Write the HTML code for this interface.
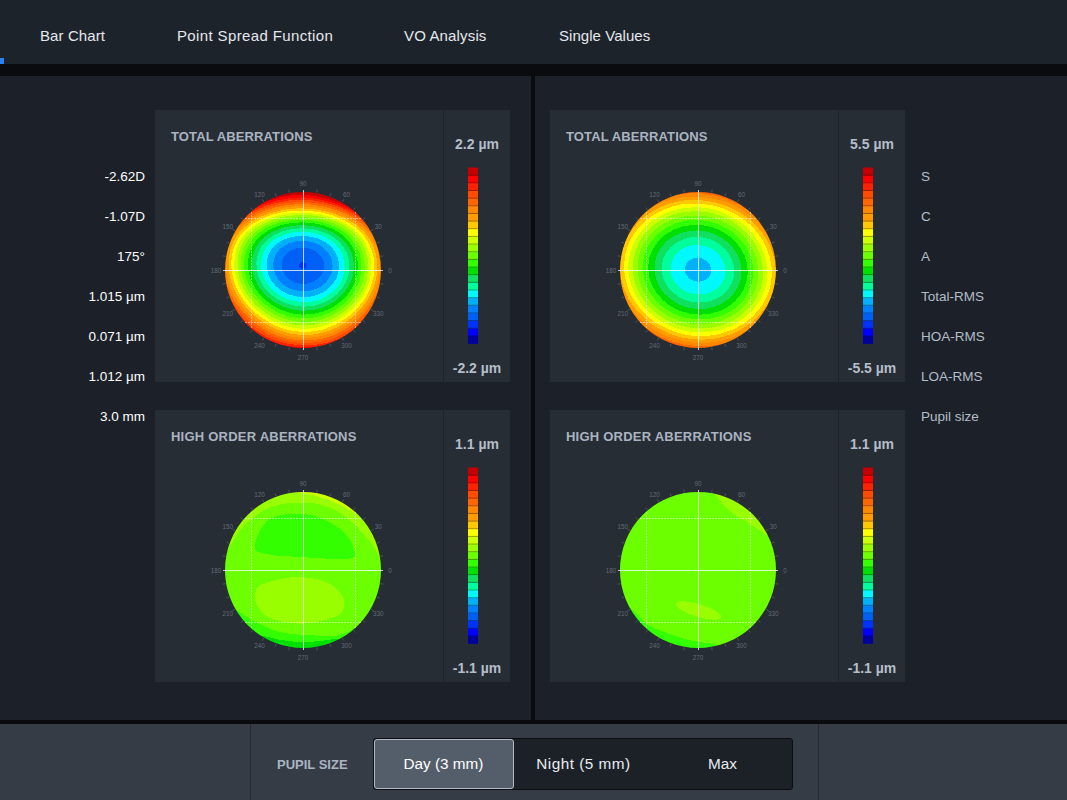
<!DOCTYPE html><html><head><meta charset="utf-8"><style>
*{margin:0;padding:0;box-sizing:border-box}
html,body{width:1067px;height:800px;overflow:hidden;background:#1c2129;font-family:"Liberation Sans",sans-serif}
.a{position:absolute}
.t{position:absolute;white-space:nowrap}
svg text{font-family:"Liberation Sans",sans-serif;font-size:6.3px;fill:#626b76;text-anchor:middle}
</style></head><body>
<div class="a" style="left:0;top:0;width:1067px;height:64px;background:#1d232b"></div>
<div class="a" style="left:0;top:58px;width:4px;height:6px;background:#2f80f5"></div>
<div class="a" style="left:0;top:64px;width:1067px;height:12px;background:#090b0f"></div>
<div class="a" style="left:0;top:76px;width:531px;height:644px;background:#1c2129"></div>
<div class="a" style="left:531px;top:76px;width:4px;height:644px;background:#090b0f"></div>
<div class="a" style="left:535px;top:76px;width:532px;height:644px;background:#1c2129"></div>
<div class="a" style="left:0;top:720px;width:1067px;height:4px;background:#090b0f"></div>
<div class="a" style="left:0;top:724px;width:1067px;height:76px;background:#363c45"></div>
<div class="a" style="left:250px;top:724px;width:1px;height:76px;background:#262b32"></div>
<div class="a" style="left:818px;top:724px;width:1px;height:76px;background:#262b32"></div>
<div class="a" style="left:373px;top:738px;width:420px;height:52px;background:#1c2128;border:1px solid #0b0d11;border-radius:3px"></div>
<div class="a" style="left:374px;top:739px;width:140px;height:50px;background:#545e6b;border:1px solid #b4bac2;border-radius:3px"></div>
<div class="t" style="left:40px;top:28.30px;font-size:15px;line-height:15px;color:#e4e8ec;font-weight:400;letter-spacing:0.1px">Bar Chart</div>
<div class="t" style="left:177px;top:28.30px;font-size:15px;line-height:15px;color:#e4e8ec;font-weight:400;letter-spacing:0.37px">Point Spread Function</div>
<div class="t" style="left:404px;top:28.30px;font-size:15px;line-height:15px;color:#e4e8ec;font-weight:400;letter-spacing:0.15px">VO Analysis</div>
<div class="t" style="left:559px;top:28.30px;font-size:15px;line-height:15px;color:#e4e8ec;font-weight:400;letter-spacing:0.05px">Single Values</div>
<div class="t" style="right:922px;top:169.57px;font-size:13.5px;line-height:13.5px;color:#ffffff;font-weight:400;text-align:right;">-2.62D</div>
<div class="t" style="right:922px;top:209.57px;font-size:13.5px;line-height:13.5px;color:#ffffff;font-weight:400;text-align:right;">-1.07D</div>
<div class="t" style="right:922px;top:249.57px;font-size:13.5px;line-height:13.5px;color:#ffffff;font-weight:400;text-align:right;">175°</div>
<div class="t" style="right:922px;top:289.57px;font-size:13.5px;line-height:13.5px;color:#ffffff;font-weight:400;text-align:right;">1.015 µm</div>
<div class="t" style="right:922px;top:329.57px;font-size:13.5px;line-height:13.5px;color:#ffffff;font-weight:400;text-align:right;">0.071 µm</div>
<div class="t" style="right:922px;top:369.57px;font-size:13.5px;line-height:13.5px;color:#ffffff;font-weight:400;text-align:right;">1.012 µm</div>
<div class="t" style="right:922px;top:409.57px;font-size:13.5px;line-height:13.5px;color:#ffffff;font-weight:400;text-align:right;">3.0 mm</div>
<div class="t" style="left:921px;top:169.57px;font-size:13.5px;line-height:13.5px;color:#b3bdc8;font-weight:400;">S</div>
<div class="t" style="left:921px;top:209.57px;font-size:13.5px;line-height:13.5px;color:#b3bdc8;font-weight:400;">C</div>
<div class="t" style="left:921px;top:249.57px;font-size:13.5px;line-height:13.5px;color:#b3bdc8;font-weight:400;">A</div>
<div class="t" style="left:921px;top:289.57px;font-size:13.5px;line-height:13.5px;color:#b3bdc8;font-weight:400;">Total-RMS</div>
<div class="t" style="left:921px;top:329.57px;font-size:13.5px;line-height:13.5px;color:#b3bdc8;font-weight:400;">HOA-RMS</div>
<div class="t" style="left:921px;top:369.57px;font-size:13.5px;line-height:13.5px;color:#b3bdc8;font-weight:400;">LOA-RMS</div>
<div class="t" style="left:921px;top:409.57px;font-size:13.5px;line-height:13.5px;color:#b3bdc8;font-weight:400;">Pupil size</div>
<div class="a" style="left:155px;top:110px;width:355px;height:272px;background:#272d35"></div>
<div class="a" style="left:443px;top:110px;width:1px;height:272px;background:#1e232a"></div>
<div class="t" style="left:171px;top:130.00px;font-size:13px;line-height:13px;color:#aab4c1;font-weight:700;letter-spacing:0.12px">TOTAL ABERRATIONS</div>
<div class="t" style="left:327px;width:300px;text-align:center;top:137.15px;font-size:14px;line-height:14px;color:#b4beca;font-weight:700;">2.2 µm</div>
<div class="t" style="left:327px;width:300px;text-align:center;top:361.15px;font-size:14px;line-height:14px;color:#b4beca;font-weight:700;">-2.2 µm</div>
<div class="a" style="left:155px;top:410px;width:355px;height:272px;background:#272d35"></div>
<div class="a" style="left:443px;top:410px;width:1px;height:272px;background:#1e232a"></div>
<div class="t" style="left:171px;top:430.00px;font-size:13px;line-height:13px;color:#aab4c1;font-weight:700;letter-spacing:0.23px">HIGH ORDER ABERRATIONS</div>
<div class="t" style="left:327px;width:300px;text-align:center;top:437.15px;font-size:14px;line-height:14px;color:#b4beca;font-weight:700;">1.1 µm</div>
<div class="t" style="left:327px;width:300px;text-align:center;top:661.15px;font-size:14px;line-height:14px;color:#b4beca;font-weight:700;">-1.1 µm</div>
<div class="a" style="left:550px;top:110px;width:355px;height:272px;background:#272d35"></div>
<div class="a" style="left:838px;top:110px;width:1px;height:272px;background:#1e232a"></div>
<div class="t" style="left:566px;top:130.00px;font-size:13px;line-height:13px;color:#aab4c1;font-weight:700;letter-spacing:0.12px">TOTAL ABERRATIONS</div>
<div class="t" style="left:722px;width:300px;text-align:center;top:137.15px;font-size:14px;line-height:14px;color:#b4beca;font-weight:700;">5.5 µm</div>
<div class="t" style="left:722px;width:300px;text-align:center;top:361.15px;font-size:14px;line-height:14px;color:#b4beca;font-weight:700;">-5.5 µm</div>
<div class="a" style="left:550px;top:410px;width:355px;height:272px;background:#272d35"></div>
<div class="a" style="left:838px;top:410px;width:1px;height:272px;background:#1e232a"></div>
<div class="t" style="left:566px;top:430.00px;font-size:13px;line-height:13px;color:#aab4c1;font-weight:700;letter-spacing:0.23px">HIGH ORDER ABERRATIONS</div>
<div class="t" style="left:722px;width:300px;text-align:center;top:437.15px;font-size:14px;line-height:14px;color:#b4beca;font-weight:700;">1.1 µm</div>
<div class="t" style="left:722px;width:300px;text-align:center;top:661.15px;font-size:14px;line-height:14px;color:#b4beca;font-weight:700;">-1.1 µm</div>
<svg class="a" style="left:0;top:0" width="1067" height="800"><g shape-rendering="crispEdges"><circle cx="303" cy="270" r="79" fill="#0033ff"/><path d="M295.7 190.4L310.3 190.4L311 191.1L315.6 191.1L316.3 191.8L318.9 191.8L319.6 192.4L322.2 192.4L324.9 193.8L326.9 193.8L329.5 195.1L330.8 195.1L332.8 196.4L334.2 196.4L343.4 201.0L348.7 205.0L349.4 205.0L351.4 207.0L352.1 207.0L354.7 209.7L355.4 209.7L363.3 217.6L363.3 218.3L366 220.9L366 221.6L368 223.6L369.3 226.2L372 229.6L376.6 238.8L376.6 240.2L377.9 242.2L377.9 243.5L379.2 246.1L379.2 248.1L380.6 250.8L380.6 253.4L381.2 254.1L381.2 256.7L381.9 257.4L381.9 262.0L382.6 262.7L382.6 277.3L381.9 278.0L381.9 282.6L381.2 283.3L381.2 285.9L380.6 286.6L380.6 289.2L379.2 291.9L379.2 293.9L377.9 296.5L377.9 297.8L376.6 299.8L376.6 301.2L372 310.4L368 315.7L368 316.4L366 318.4L366 319.1L363.3 321.7L363.3 322.4L355.4 330.3L354.7 330.3L352.1 333.0L351.4 333.0L349.4 335.0L348.7 335.0L343.4 339.0L334.2 343.6L332.8 343.6L330.8 344.9L329.5 344.9L326.9 346.2L324.9 346.2L322.2 347.6L319.6 347.6L318.9 348.2L316.3 348.2L315.6 348.9L311 348.9L310.3 349.6L295.7 349.6L295 348.9L290.4 348.9L289.7 348.2L287.1 348.2L286.4 347.6L283.8 347.6L281.1 346.2L279.1 346.2L276.5 344.9L275.2 344.9L273.2 343.6L271.8 343.6L262.6 339.0L259.2 336.3L256.6 335.0L254.6 333.0L253.9 333.0L251.3 330.3L250.6 330.3L242.7 322.4L242.7 321.7L240 319.1L240 318.4L238 316.4L238 315.7L234 310.4L229.4 301.2L229.4 299.8L228.1 297.8L228.1 296.5L226.8 293.9L226.8 291.9L225.4 289.2L225.4 286.6L224.8 285.9L224.8 283.3L224.1 282.6L224.1 278.0L223.4 277.3L223.4 262.7L224.1 262.0L224.1 257.4L224.8 256.7L224.8 254.1L225.4 253.4L225.4 250.8L226.8 248.1L226.8 246.1L228.1 243.5L228.1 242.2L229.4 240.2L229.4 238.8L234 229.6L236.7 226.2L238 223.6L240 221.6L240 220.9L242.7 218.3L242.7 217.6L250.6 209.7L251.3 209.7L253.9 207.0L254.6 207.0L256.6 205.0L259.2 203.7L262.6 201.0L271.8 196.4L273.2 196.4L275.2 195.1L276.5 195.1L279.1 193.8L281.1 193.8L283.8 192.4L286.4 192.4L287.1 191.8L289.7 191.8L290.4 191.1L295 191.1L295.7 190.4ZM300.5 262.7L299.3 264.0L299 265.4L299.3 266.7L300.3 267.9L301.7 268.6L303.7 268.7L306.1 267.3L306.7 265.4L305.7 263.2L303 262.1L300.5 262.7Z" fill="#0060f5" fill-rule="evenodd"/><path d="M295.7 190.4L310.3 190.4L311 191.1L315.6 191.1L316.3 191.8L318.9 191.8L319.6 192.4L322.2 192.4L324.9 193.8L326.9 193.8L329.5 195.1L330.8 195.1L332.8 196.4L334.2 196.4L343.4 201.0L348.7 205.0L349.4 205.0L351.4 207.0L352.1 207.0L354.7 209.7L355.4 209.7L363.3 217.6L363.3 218.3L366 220.9L366 221.6L368 223.6L369.3 226.2L372 229.6L376.6 238.8L376.6 240.2L377.9 242.2L377.9 243.5L379.2 246.1L379.2 248.1L380.6 250.8L380.6 253.4L381.2 254.1L381.2 256.7L381.9 257.4L381.9 262.0L382.6 262.7L382.6 277.3L381.9 278.0L381.9 282.6L381.2 283.3L381.2 285.9L380.6 286.6L380.6 289.2L379.2 291.9L379.2 293.9L377.9 296.5L377.9 297.8L376.6 299.8L376.6 301.2L372 310.4L368 315.7L368 316.4L366 318.4L366 319.1L363.3 321.7L363.3 322.4L355.4 330.3L354.7 330.3L352.1 333.0L351.4 333.0L349.4 335.0L348.7 335.0L343.4 339.0L334.2 343.6L332.8 343.6L330.8 344.9L329.5 344.9L326.9 346.2L324.9 346.2L322.2 347.6L319.6 347.6L318.9 348.2L316.3 348.2L315.6 348.9L311 348.9L310.3 349.6L295.7 349.6L295 348.9L290.4 348.9L289.7 348.2L287.1 348.2L286.4 347.6L283.8 347.6L281.1 346.2L279.1 346.2L276.5 344.9L275.2 344.9L273.2 343.6L271.8 343.6L262.6 339.0L259.2 336.3L256.6 335.0L254.6 333.0L253.9 333.0L251.3 330.3L250.6 330.3L242.7 322.4L242.7 321.7L240 319.1L240 318.4L238 316.4L238 315.7L234 310.4L229.4 301.2L229.4 299.8L228.1 297.8L228.1 296.5L226.8 293.9L226.8 291.9L225.4 289.2L225.4 286.6L224.8 285.9L224.8 283.3L224.1 282.6L224.1 278.0L223.4 277.3L223.4 262.7L224.1 262.0L224.1 257.4L224.8 256.7L224.8 254.1L225.4 253.4L225.4 250.8L226.8 248.1L226.8 246.1L228.1 243.5L228.1 242.2L229.4 240.2L229.4 238.8L234 229.6L236.7 226.2L238 223.6L240 221.6L240 220.9L242.7 218.3L242.7 217.6L250.6 209.7L251.3 209.7L253.9 207.0L254.6 207.0L256.6 205.0L259.2 203.7L262.6 201.0L271.8 196.4L273.2 196.4L275.2 195.1L276.5 195.1L279.1 193.8L281.1 193.8L283.8 192.4L286.4 192.4L287.1 191.8L289.7 191.8L290.4 191.1L295 191.1L295.7 190.4ZM297 248.1L292.8 249.4L289.1 251.4L286 254.1L283.6 257.4L282.2 260.7L281.6 264.7L282.1 268.7L283.6 272.7L285.8 276.0L289.1 279.2L293.1 281.6L297 283.1L301 283.8L305.7 283.8L310.3 282.9L314.3 281.3L319.6 277.2L321.6 274.6L323.1 271.3L323.9 268.0L324 264.7L323.5 261.4L322.2 258.3L318.2 253.3L315.6 251.3L312.1 249.4L308.3 248.2L304.3 247.6L297 248.1Z" fill="#0080ff" fill-rule="evenodd"/><path d="M295.7 190.4L310.3 190.4L311 191.1L315.6 191.1L316.3 191.8L318.9 191.8L319.6 192.4L322.2 192.4L324.9 193.8L326.9 193.8L329.5 195.1L330.8 195.1L332.8 196.4L334.2 196.4L343.4 201.0L348.7 205.0L349.4 205.0L351.4 207.0L352.1 207.0L354.7 209.7L355.4 209.7L363.3 217.6L363.3 218.3L366 220.9L366 221.6L368 223.6L369.3 226.2L372 229.6L376.6 238.8L376.6 240.2L377.9 242.2L377.9 243.5L379.2 246.1L379.2 248.1L380.6 250.8L380.6 253.4L381.2 254.1L381.2 256.7L381.9 257.4L381.9 262.0L382.6 262.7L382.6 277.3L381.9 278.0L381.9 282.6L381.2 283.3L381.2 285.9L380.6 286.6L380.6 289.2L379.2 291.9L379.2 293.9L377.9 296.5L377.9 297.8L376.6 299.8L376.6 301.2L372 310.4L368 315.7L368 316.4L366 318.4L366 319.1L363.3 321.7L363.3 322.4L355.4 330.3L354.7 330.3L352.1 333.0L351.4 333.0L349.4 335.0L348.7 335.0L343.4 339.0L334.2 343.6L332.8 343.6L330.8 344.9L329.5 344.9L326.9 346.2L324.9 346.2L322.2 347.6L319.6 347.6L318.9 348.2L316.3 348.2L315.6 348.9L311 348.9L310.3 349.6L295.7 349.6L295 348.9L290.4 348.9L289.7 348.2L287.1 348.2L286.4 347.6L283.8 347.6L281.1 346.2L279.1 346.2L276.5 344.9L275.2 344.9L273.2 343.6L271.8 343.6L262.6 339.0L259.2 336.3L256.6 335.0L254.6 333.0L253.9 333.0L251.3 330.3L250.6 330.3L242.7 322.4L242.7 321.7L240 319.1L240 318.4L238 316.4L238 315.7L234 310.4L229.4 301.2L229.4 299.8L228.1 297.8L228.1 296.5L226.8 293.9L226.8 291.9L225.4 289.2L225.4 286.6L224.8 285.9L224.8 283.3L224.1 282.6L224.1 278.0L223.4 277.3L223.4 262.7L224.1 262.0L224.1 257.4L224.8 256.7L224.8 254.1L225.4 253.4L225.4 250.8L226.8 248.1L226.8 246.1L228.1 243.5L228.1 242.2L229.4 240.2L229.4 238.8L234 229.6L236.7 226.2L238 223.6L240 221.6L240 220.9L242.7 218.3L242.7 217.6L250.6 209.7L251.3 209.7L253.9 207.0L254.6 207.0L256.6 205.0L259.2 203.7L262.6 201.0L271.8 196.4L273.2 196.4L275.2 195.1L276.5 195.1L279.1 193.8L281.1 193.8L283.8 192.4L286.4 192.4L287.1 191.8L289.7 191.8L290.4 191.1L295 191.1L295.7 190.4ZM295.1 241.5L289.1 243.2L283.8 245.9L279.4 249.4L276.3 253.4L274 258.7L273.1 264.0L273.6 269.3L275.4 274.6L278.5 279.7L282.4 283.8L287.4 287.2L293.1 289.7L299 291.1L305.7 291.4L311.6 290.4L317.6 288.3L321.7 285.9L325.7 282.6L328.8 278.6L330.9 274.6L332.3 270.0L332.6 265.4L332 260.7L330.3 256.1L327.8 252.1L324.7 248.8L320.9 245.9L316.3 243.6L311 241.9L305.7 241.0L300.3 240.9L295.1 241.5Z" fill="#00b0f8" fill-rule="evenodd"/><path d="M295.7 190.4L310.3 190.4L311 191.1L315.6 191.1L316.3 191.8L318.9 191.8L319.6 192.4L322.2 192.4L324.9 193.8L326.9 193.8L329.5 195.1L330.8 195.1L332.8 196.4L334.2 196.4L343.4 201.0L348.7 205.0L349.4 205.0L351.4 207.0L352.1 207.0L354.7 209.7L355.4 209.7L363.3 217.6L363.3 218.3L366 220.9L366 221.6L368 223.6L369.3 226.2L372 229.6L376.6 238.8L376.6 240.2L377.9 242.2L377.9 243.5L379.2 246.1L379.2 248.1L380.6 250.8L380.6 253.4L381.2 254.1L381.2 256.7L381.9 257.4L381.9 262.0L382.6 262.7L382.6 277.3L381.9 278.0L381.9 282.6L381.2 283.3L381.2 285.9L380.6 286.6L380.6 289.2L379.2 291.9L379.2 293.9L377.9 296.5L377.9 297.8L376.6 299.8L376.6 301.2L372 310.4L368 315.7L368 316.4L366 318.4L366 319.1L363.3 321.7L363.3 322.4L355.4 330.3L354.7 330.3L352.1 333.0L351.4 333.0L349.4 335.0L348.7 335.0L343.4 339.0L334.2 343.6L332.8 343.6L330.8 344.9L329.5 344.9L326.9 346.2L324.9 346.2L322.2 347.6L319.6 347.6L318.9 348.2L316.3 348.2L315.6 348.9L311 348.9L310.3 349.6L295.7 349.6L295 348.9L290.4 348.9L289.7 348.2L287.1 348.2L286.4 347.6L283.8 347.6L281.1 346.2L279.1 346.2L276.5 344.9L275.2 344.9L273.2 343.6L271.8 343.6L262.6 339.0L259.2 336.3L256.6 335.0L254.6 333.0L253.9 333.0L251.3 330.3L250.6 330.3L242.7 322.4L242.7 321.7L240 319.1L240 318.4L238 316.4L238 315.7L234 310.4L229.4 301.2L229.4 299.8L228.1 297.8L228.1 296.5L226.8 293.9L226.8 291.9L225.4 289.2L225.4 286.6L224.8 285.9L224.8 283.3L224.1 282.6L224.1 278.0L223.4 277.3L223.4 262.7L224.1 262.0L224.1 257.4L224.8 256.7L224.8 254.1L225.4 253.4L225.4 250.8L226.8 248.1L226.8 246.1L228.1 243.5L228.1 242.2L229.4 240.2L229.4 238.8L234 229.6L236.7 226.2L238 223.6L240 221.6L240 220.9L242.7 218.3L242.7 217.6L250.6 209.7L251.3 209.7L253.9 207.0L254.6 207.0L256.6 205.0L259.2 203.7L262.6 201.0L271.8 196.4L273.2 196.4L275.2 195.1L276.5 195.1L279.1 193.8L281.1 193.8L283.8 192.4L286.4 192.4L287.1 191.8L289.7 191.8L290.4 191.1L295 191.1L295.7 190.4ZM296.4 236.2L289.1 237.7L282.4 240.2L276.4 244.1L271.8 248.9L268.5 254.7L266.9 260.7L266.7 267.3L268.2 274.0L271.2 280.2L275.7 285.9L281.1 290.4L287.5 293.9L295 296.3L302.3 297.2L309.6 296.8L316.9 295.0L322.6 292.5L327.6 289.2L332.2 284.8L335.5 279.9L337.8 274.6L339 268.7L338.9 262.7L337.7 257.4L335.5 252.5L332.2 247.9L328.1 244.1L322.9 240.8L316.9 238.2L310.3 236.6L303.7 235.9L296.4 236.2Z" fill="#00f8ff" fill-rule="evenodd"/><path d="M295.7 190.4L310.3 190.4L311 191.1L315.6 191.1L316.3 191.8L318.9 191.8L319.6 192.4L322.2 192.4L324.9 193.8L326.9 193.8L329.5 195.1L330.8 195.1L332.8 196.4L334.2 196.4L343.4 201.0L348.7 205.0L349.4 205.0L351.4 207.0L352.1 207.0L354.7 209.7L355.4 209.7L363.3 217.6L363.3 218.3L366 220.9L366 221.6L368 223.6L369.3 226.2L372 229.6L376.6 238.8L376.6 240.2L377.9 242.2L377.9 243.5L379.2 246.1L379.2 248.1L380.6 250.8L380.6 253.4L381.2 254.1L381.2 256.7L381.9 257.4L381.9 262.0L382.6 262.7L382.6 277.3L381.9 278.0L381.9 282.6L381.2 283.3L381.2 285.9L380.6 286.6L380.6 289.2L379.2 291.9L379.2 293.9L377.9 296.5L377.9 297.8L376.6 299.8L376.6 301.2L372 310.4L368 315.7L368 316.4L366 318.4L366 319.1L363.3 321.7L363.3 322.4L355.4 330.3L354.7 330.3L352.1 333.0L351.4 333.0L349.4 335.0L348.7 335.0L343.4 339.0L334.2 343.6L332.8 343.6L330.8 344.9L329.5 344.9L326.9 346.2L324.9 346.2L322.2 347.6L319.6 347.6L318.9 348.2L316.3 348.2L315.6 348.9L311 348.9L310.3 349.6L295.7 349.6L295 348.9L290.4 348.9L289.7 348.2L287.1 348.2L286.4 347.6L283.8 347.6L281.1 346.2L279.1 346.2L276.5 344.9L275.2 344.9L273.2 343.6L271.8 343.6L262.6 339.0L259.2 336.3L256.6 335.0L254.6 333.0L253.9 333.0L251.3 330.3L250.6 330.3L242.7 322.4L242.7 321.7L240 319.1L240 318.4L238 316.4L238 315.7L234 310.4L229.4 301.2L229.4 299.8L228.1 297.8L228.1 296.5L226.8 293.9L226.8 291.9L225.4 289.2L225.4 286.6L224.8 285.9L224.8 283.3L224.1 282.6L224.1 278.0L223.4 277.3L223.4 262.7L224.1 262.0L224.1 257.4L224.8 256.7L224.8 254.1L225.4 253.4L225.4 250.8L226.8 248.1L226.8 246.1L228.1 243.5L228.1 242.2L229.4 240.2L229.4 238.8L234 229.6L236.7 226.2L238 223.6L240 221.6L240 220.9L242.7 218.3L242.7 217.6L250.6 209.7L251.3 209.7L253.9 207.0L254.6 207.0L256.6 205.0L259.2 203.7L262.6 201.0L271.8 196.4L273.2 196.4L275.2 195.1L276.5 195.1L279.1 193.8L281.1 193.8L283.8 192.4L286.4 192.4L287.1 191.8L289.7 191.8L290.4 191.1L295 191.1L295.7 190.4ZM294.9 232.2L285.8 234.2L277.8 237.5L271.2 242.1L266.5 247.2L263.2 253.4L261.3 260.7L261.4 268.7L263.2 276.0L266.5 282.7L271.8 289.2L278.3 294.5L285.8 298.6L293.7 301.1L302.3 302.2L311 301.7L319.6 299.5L326.2 296.4L332.2 292.2L337.1 287.2L341 281.3L343.4 275.3L344.6 268.7L344.4 262.0L342.7 255.4L340.1 250.1L336.1 244.8L330.8 240.3L325.1 236.9L318.2 234.2L310.3 232.4L302.3 231.8L294.9 232.2Z" fill="#00ff9c" fill-rule="evenodd"/><path d="M295.7 190.4L310.3 190.4L311 191.1L315.6 191.1L316.3 191.8L318.9 191.8L319.6 192.4L322.2 192.4L324.9 193.8L326.9 193.8L329.5 195.1L330.8 195.1L332.8 196.4L334.2 196.4L343.4 201.0L348.7 205.0L349.4 205.0L351.4 207.0L352.1 207.0L354.7 209.7L355.4 209.7L363.3 217.6L363.3 218.3L366 220.9L366 221.6L368 223.6L369.3 226.2L372 229.6L376.6 238.8L376.6 240.2L377.9 242.2L377.9 243.5L379.2 246.1L379.2 248.1L380.6 250.8L380.6 253.4L381.2 254.1L381.2 256.7L381.9 257.4L381.9 262.0L382.6 262.7L382.6 277.3L381.9 278.0L381.9 282.6L381.2 283.3L381.2 285.9L380.6 286.6L380.6 289.2L379.2 291.9L379.2 293.9L377.9 296.5L377.9 297.8L376.6 299.8L376.6 301.2L372 310.4L368 315.7L368 316.4L366 318.4L366 319.1L363.3 321.7L363.3 322.4L355.4 330.3L354.7 330.3L352.1 333.0L351.4 333.0L349.4 335.0L348.7 335.0L343.4 339.0L334.2 343.6L332.8 343.6L330.8 344.9L329.5 344.9L326.9 346.2L324.9 346.2L322.2 347.6L319.6 347.6L318.9 348.2L316.3 348.2L315.6 348.9L311 348.9L310.3 349.6L295.7 349.6L295 348.9L290.4 348.9L289.7 348.2L287.1 348.2L286.4 347.6L283.8 347.6L281.1 346.2L279.1 346.2L276.5 344.9L275.2 344.9L273.2 343.6L271.8 343.6L262.6 339.0L259.2 336.3L256.6 335.0L254.6 333.0L253.9 333.0L251.3 330.3L250.6 330.3L242.7 322.4L242.7 321.7L240 319.1L240 318.4L238 316.4L238 315.7L234 310.4L229.4 301.2L229.4 299.8L228.1 297.8L228.1 296.5L226.8 293.9L226.8 291.9L225.4 289.2L225.4 286.6L224.8 285.9L224.8 283.3L224.1 282.6L224.1 278.0L223.4 277.3L223.4 262.7L224.1 262.0L224.1 257.4L224.8 256.7L224.8 254.1L225.4 253.4L225.4 250.8L226.8 248.1L226.8 246.1L228.1 243.5L228.1 242.2L229.4 240.2L229.4 238.8L234 229.6L236.7 226.2L238 223.6L240 221.6L240 220.9L242.7 218.3L242.7 217.6L250.6 209.7L251.3 209.7L253.9 207.0L254.6 207.0L256.6 205.0L259.2 203.7L262.6 201.0L271.8 196.4L273.2 196.4L275.2 195.1L276.5 195.1L279.1 193.8L281.1 193.8L283.8 192.4L286.4 192.4L287.1 191.8L289.7 191.8L290.4 191.1L295 191.1L295.7 190.4ZM292.8 228.9L283.1 231.1L274.3 234.9L267.2 239.8L261.7 246.1L258.1 253.4L256.4 261.4L256.7 270.0L259.1 278.6L263.5 286.6L269.4 293.2L277.1 299.1L285.8 303.3L295 305.9L304.3 306.7L313.6 305.8L322.9 303.0L330.2 299.3L336.6 294.5L341.5 289.2L345.7 282.6L348.4 275.3L349.5 268.0L349 260.7L347 253.4L343.9 247.5L339.5 242.0L334.1 237.5L326.9 233.4L318.9 230.6L310.3 228.8L301.7 228.3L292.8 228.9Z" fill="#10e060" fill-rule="evenodd"/><path d="M295.7 190.4L310.3 190.4L311 191.1L315.6 191.1L316.3 191.8L318.9 191.8L319.6 192.4L322.2 192.4L324.9 193.8L326.9 193.8L329.5 195.1L330.8 195.1L332.8 196.4L334.2 196.4L343.4 201.0L348.7 205.0L349.4 205.0L351.4 207.0L352.1 207.0L354.7 209.7L355.4 209.7L363.3 217.6L363.3 218.3L366 220.9L366 221.6L368 223.6L369.3 226.2L372 229.6L376.6 238.8L376.6 240.2L377.9 242.2L377.9 243.5L379.2 246.1L379.2 248.1L380.6 250.8L380.6 253.4L381.2 254.1L381.2 256.7L381.9 257.4L381.9 262.0L382.6 262.7L382.6 277.3L381.9 278.0L381.9 282.6L381.2 283.3L381.2 285.9L380.6 286.6L380.6 289.2L379.2 291.9L379.2 293.9L377.9 296.5L377.9 297.8L376.6 299.8L376.6 301.2L372 310.4L368 315.7L368 316.4L366 318.4L366 319.1L363.3 321.7L363.3 322.4L355.4 330.3L354.7 330.3L352.1 333.0L351.4 333.0L349.4 335.0L348.7 335.0L343.4 339.0L334.2 343.6L332.8 343.6L330.8 344.9L329.5 344.9L326.9 346.2L324.9 346.2L322.2 347.6L319.6 347.6L318.9 348.2L316.3 348.2L315.6 348.9L311 348.9L310.3 349.6L295.7 349.6L295 348.9L290.4 348.9L289.7 348.2L287.1 348.2L286.4 347.6L283.8 347.6L281.1 346.2L279.1 346.2L276.5 344.9L275.2 344.9L273.2 343.6L271.8 343.6L262.6 339.0L259.2 336.3L256.6 335.0L254.6 333.0L253.9 333.0L251.3 330.3L250.6 330.3L242.7 322.4L242.7 321.7L240 319.1L240 318.4L238 316.4L238 315.7L234 310.4L229.4 301.2L229.4 299.8L228.1 297.8L228.1 296.5L226.8 293.9L226.8 291.9L225.4 289.2L225.4 286.6L224.8 285.9L224.8 283.3L224.1 282.6L224.1 278.0L223.4 277.3L223.4 262.7L224.1 262.0L224.1 257.4L224.8 256.7L224.8 254.1L225.4 253.4L225.4 250.8L226.8 248.1L226.8 246.1L228.1 243.5L228.1 242.2L229.4 240.2L229.4 238.8L234 229.6L236.7 226.2L238 223.6L240 221.6L240 220.9L242.7 218.3L242.7 217.6L250.6 209.7L251.3 209.7L253.9 207.0L254.6 207.0L256.6 205.0L259.2 203.7L262.6 201.0L271.8 196.4L273.2 196.4L275.2 195.1L276.5 195.1L279.1 193.8L281.1 193.8L283.8 192.4L286.4 192.4L287.1 191.8L289.7 191.8L290.4 191.1L295 191.1L295.7 190.4ZM293.7 225.6L283.1 227.6L273.2 231.4L265.2 236.5L259 242.8L254.7 250.1L252.3 258.7L252.1 268.0L254.1 277.3L258.1 285.9L264.2 293.9L271.9 300.5L281.1 305.8L291.1 309.3L301 310.7L311.6 310.3L321.6 308.0L330.2 304.2L337.5 299.3L343.7 293.2L348.7 286.0L352.1 278.3L353.7 270.0L353.6 262.0L351.8 254.1L348.7 247.4L344.1 241.2L338.1 235.9L330.9 231.5L322.6 228.2L313.6 226.1L303.7 225.2L293.7 225.6Z" fill="#00e000" fill-rule="evenodd"/><path d="M295.7 190.4L310.3 190.4L311 191.1L315.6 191.1L316.3 191.8L318.9 191.8L319.6 192.4L322.2 192.4L324.9 193.8L326.9 193.8L329.5 195.1L330.8 195.1L332.8 196.4L334.2 196.4L343.4 201.0L348.7 205.0L349.4 205.0L351.4 207.0L352.1 207.0L354.7 209.7L355.4 209.7L363.3 217.6L363.3 218.3L366 220.9L366 221.6L368 223.6L369.3 226.2L372 229.6L376.6 238.8L376.6 240.2L377.9 242.2L377.9 243.5L379.2 246.1L379.2 248.1L380.6 250.8L380.6 253.4L381.2 254.1L381.2 256.7L381.9 257.4L381.9 262.0L382.6 262.7L382.6 277.3L381.9 278.0L381.9 282.6L381.2 283.3L381.2 285.9L380.6 286.6L380.6 289.2L379.2 291.9L379.2 293.9L377.9 296.5L377.9 297.8L376.6 299.8L376.6 301.2L372 310.4L368 315.7L368 316.4L366 318.4L366 319.1L363.3 321.7L363.3 322.4L355.4 330.3L354.7 330.3L352.1 333.0L351.4 333.0L349.4 335.0L348.7 335.0L343.4 339.0L334.2 343.6L332.8 343.6L330.8 344.9L329.5 344.9L326.9 346.2L324.9 346.2L322.2 347.6L319.6 347.6L318.9 348.2L316.3 348.2L315.6 348.9L311 348.9L310.3 349.6L295.7 349.6L295 348.9L290.4 348.9L289.7 348.2L287.1 348.2L286.4 347.6L283.8 347.6L281.1 346.2L279.1 346.2L276.5 344.9L275.2 344.9L273.2 343.6L271.8 343.6L262.6 339.0L259.2 336.3L256.6 335.0L254.6 333.0L253.9 333.0L251.3 330.3L250.6 330.3L242.7 322.4L242.7 321.7L240 319.1L240 318.4L238 316.4L238 315.7L234 310.4L229.4 301.2L229.4 299.8L228.1 297.8L228.1 296.5L226.8 293.9L226.8 291.9L225.4 289.2L225.4 286.6L224.8 285.9L224.8 283.3L224.1 282.6L224.1 278.0L223.4 277.3L223.4 262.7L224.1 262.0L224.1 257.4L224.8 256.7L224.8 254.1L225.4 253.4L225.4 250.8L226.8 248.1L226.8 246.1L228.1 243.5L228.1 242.2L229.4 240.2L229.4 238.8L234 229.6L236.7 226.2L238 223.6L240 221.6L240 220.9L242.7 218.3L242.7 217.6L250.6 209.7L251.3 209.7L253.9 207.0L254.6 207.0L256.6 205.0L259.2 203.7L262.6 201.0L271.8 196.4L273.2 196.4L275.2 195.1L276.5 195.1L279.1 193.8L281.1 193.8L283.8 192.4L286.4 192.4L287.1 191.8L289.7 191.8L290.4 191.1L295 191.1L295.7 190.4ZM291.7 222.9L279.8 225.5L269.7 229.6L261.2 235.2L254.7 242.2L250.4 250.1L249 254.8L248.2 259.4L248.2 269.3L250.6 279.3L255.2 288.6L262.1 297.2L271 304.5L280.7 309.8L291.1 313.2L302.3 314.7L313.6 314.0L324.2 311.1L332.8 307.1L340.8 301.6L347.4 294.9L352.7 287.0L356.1 278.6L357.7 270.0L357.5 260.7L355.4 252.4L352 245.5L346.8 238.8L340.1 233.2L332.2 228.7L322.9 225.2L312.9 223.1L302.3 222.3L291.7 222.9Z" fill="#33ff00" fill-rule="evenodd"/><path d="M295.7 190.4L310.3 190.4L311 191.1L315.6 191.1L316.3 191.8L318.9 191.8L319.6 192.4L322.2 192.4L324.9 193.8L326.9 193.8L329.5 195.1L330.8 195.1L332.8 196.4L334.2 196.4L343.4 201.0L348.7 205.0L349.4 205.0L351.4 207.0L352.1 207.0L354.7 209.7L355.4 209.7L363.3 217.6L363.3 218.3L366 220.9L366 221.6L368 223.6L369.3 226.2L372 229.6L376.6 238.8L376.6 240.2L377.9 242.2L377.9 243.5L379.2 246.1L379.2 248.1L380.6 250.8L380.6 253.4L381.2 254.1L381.2 256.7L381.9 257.4L381.9 262.0L382.6 262.7L382.6 277.3L381.9 278.0L381.9 282.6L381.2 283.3L381.2 285.9L380.6 286.6L380.6 289.2L379.2 291.9L379.2 293.9L377.9 296.5L377.9 297.8L376.6 299.8L376.6 301.2L372 310.4L368 315.7L368 316.4L366 318.4L366 319.1L363.3 321.7L363.3 322.4L355.4 330.3L354.7 330.3L352.1 333.0L351.4 333.0L349.4 335.0L348.7 335.0L343.4 339.0L334.2 343.6L332.8 343.6L330.8 344.9L329.5 344.9L326.9 346.2L324.9 346.2L322.2 347.6L319.6 347.6L318.9 348.2L316.3 348.2L315.6 348.9L311 348.9L310.3 349.6L295.7 349.6L295 348.9L290.4 348.9L289.7 348.2L287.1 348.2L286.4 347.6L283.8 347.6L281.1 346.2L279.1 346.2L276.5 344.9L275.2 344.9L273.2 343.6L271.8 343.6L262.6 339.0L259.2 336.3L256.6 335.0L254.6 333.0L253.9 333.0L251.3 330.3L250.6 330.3L242.7 322.4L242.7 321.7L240 319.1L240 318.4L238 316.4L238 315.7L234 310.4L229.4 301.2L229.4 299.8L228.1 297.8L228.1 296.5L226.8 293.9L226.8 291.9L225.4 289.2L225.4 286.6L224.8 285.9L224.8 283.3L224.1 282.6L224.1 278.0L223.4 277.3L223.4 262.7L224.1 262.0L224.1 257.4L224.8 256.7L224.8 254.1L225.4 253.4L225.4 250.8L226.8 248.1L226.8 246.1L228.1 243.5L228.1 242.2L229.4 240.2L229.4 238.8L234 229.6L236.7 226.2L238 223.6L240 221.6L240 220.9L242.7 218.3L242.7 217.6L250.6 209.7L251.3 209.7L253.9 207.0L254.6 207.0L256.6 205.0L259.2 203.7L262.6 201.0L271.8 196.4L273.2 196.4L275.2 195.1L276.5 195.1L279.1 193.8L281.1 193.8L283.8 192.4L286.4 192.4L287.1 191.8L289.7 191.8L290.4 191.1L295 191.1L295.7 190.4ZM291.5 220.3L279.1 222.8L268.3 226.9L263.6 229.6L258.9 232.9L255.3 236.2L251.9 240.0L247.3 248.1L245.7 252.8L244.6 258.1L244.2 263.4L244.4 268.7L245.2 274.0L246.7 279.3L248.9 284.6L251.4 289.2L254.6 294.0L258.5 298.5L267.2 306.1L277.8 312.4L289.1 316.5L300.3 318.3L312.3 317.9L323.6 315.3L333.5 310.9L342.1 305.2L349.7 297.8L355.3 289.9L359.4 280.8L361.3 271.3L361.3 262.0L359.4 252.8L355.7 244.8L350.7 238.1L344.1 232.2L335.2 226.9L324.9 223.0L314.3 220.6L303 219.7L291.5 220.3Z" fill="#6cff00" fill-rule="evenodd"/><path d="M295.7 190.4L310.3 190.4L311 191.1L315.6 191.1L316.3 191.8L318.9 191.8L319.6 192.4L322.2 192.4L324.9 193.8L326.9 193.8L329.5 195.1L330.8 195.1L332.8 196.4L334.2 196.4L343.4 201.0L348.7 205.0L349.4 205.0L351.4 207.0L352.1 207.0L354.7 209.7L355.4 209.7L363.3 217.6L363.3 218.3L366 220.9L366 221.6L368 223.6L369.3 226.2L372 229.6L376.6 238.8L376.6 240.2L377.9 242.2L377.9 243.5L379.2 246.1L379.2 248.1L380.6 250.8L380.6 253.4L381.2 254.1L381.2 256.7L381.9 257.4L381.9 262.0L382.6 262.7L382.6 277.3L381.9 278.0L381.9 282.6L381.2 283.3L381.2 285.9L380.6 286.6L380.6 289.2L379.2 291.9L379.2 293.9L377.9 296.5L377.9 297.8L376.6 299.8L376.6 301.2L372 310.4L368 315.7L368 316.4L366 318.4L366 319.1L363.3 321.7L363.3 322.4L355.4 330.3L354.7 330.3L352.1 333.0L351.4 333.0L349.4 335.0L348.7 335.0L343.4 339.0L334.2 343.6L332.8 343.6L330.8 344.9L329.5 344.9L326.9 346.2L324.9 346.2L322.2 347.6L319.6 347.6L318.9 348.2L316.3 348.2L315.6 348.9L311 348.9L310.3 349.6L295.7 349.6L295 348.9L290.4 348.9L289.7 348.2L287.1 348.2L286.4 347.6L283.8 347.6L281.1 346.2L279.1 346.2L276.5 344.9L275.2 344.9L273.2 343.6L271.8 343.6L262.6 339.0L259.2 336.3L256.6 335.0L254.6 333.0L253.9 333.0L251.3 330.3L250.6 330.3L242.7 322.4L242.7 321.7L240 319.1L240 318.4L238 316.4L238 315.7L234 310.4L229.4 301.2L229.4 299.8L228.1 297.8L228.1 296.5L226.8 293.9L226.8 291.9L225.4 289.2L225.4 286.6L224.8 285.9L224.8 283.3L224.1 282.6L224.1 278.0L223.4 277.3L223.4 262.7L224.1 262.0L224.1 257.4L224.8 256.7L224.8 254.1L225.4 253.4L225.4 250.8L226.8 248.1L226.8 246.1L228.1 243.5L228.1 242.2L229.4 240.2L229.4 238.8L234 229.6L236.7 226.2L238 223.6L240 221.6L240 220.9L242.7 218.3L242.7 217.6L250.6 209.7L251.3 209.7L253.9 207.0L254.6 207.0L256.6 205.0L259.2 203.7L262.6 201.0L271.8 196.4L273.2 196.4L275.2 195.1L276.5 195.1L279.1 193.8L281.1 193.8L283.8 192.4L286.4 192.4L287.1 191.8L289.7 191.8L290.4 191.1L295 191.1L295.7 190.4ZM292.8 217.6L279.8 219.9L267.9 224.1L257.9 229.9L250.3 236.9L247.4 240.8L244.7 245.5L242.9 250.1L241.5 255.4L240.8 260.7L240.7 266.0L241.3 272.0L242.5 277.3L244.3 282.6L246.7 287.9L249.9 293.2L253.4 297.8L257.7 302.5L262.6 306.8L273.2 313.9L279.1 316.7L285.1 318.9L297 321.5L309 321.8L320.9 319.8L331.5 315.8L341.5 310.0L350.1 302.5L356.9 293.9L361.7 284.6L364.4 274.6L365 264.0L363.3 254.1L359.9 245.5L354.4 237.5L347.4 231.0L338.8 225.7L328.2 221.3L316.9 218.5L305 217.3L292.8 217.6Z" fill="#99ff00" fill-rule="evenodd"/><path d="M295.7 190.4L310.3 190.4L311 191.1L315.6 191.1L316.3 191.8L318.9 191.8L319.6 192.4L322.2 192.4L324.9 193.8L326.9 193.8L329.5 195.1L330.8 195.1L332.8 196.4L334.2 196.4L343.4 201.0L348.7 205.0L349.4 205.0L351.4 207.0L352.1 207.0L354.7 209.7L355.4 209.7L363.3 217.6L363.3 218.3L366 220.9L366 221.6L368 223.6L369.3 226.2L372 229.6L376.6 238.8L376.6 240.2L377.9 242.2L377.9 243.5L379.2 246.1L379.2 248.1L380.6 250.8L380.6 253.4L381.2 254.1L381.2 256.7L381.9 257.4L381.9 262.0L382.6 262.7L382.6 277.3L381.9 278.0L381.9 282.6L381.2 283.3L381.2 285.9L380.6 286.6L380.6 289.2L379.2 291.9L379.2 293.9L377.9 296.5L377.9 297.8L376.6 299.8L376.6 301.2L372 310.4L368 315.7L368 316.4L366 318.4L366 319.1L363.3 321.7L363.3 322.4L355.4 330.3L354.7 330.3L352.1 333.0L351.4 333.0L349.4 335.0L348.7 335.0L343.4 339.0L334.2 343.6L332.8 343.6L330.8 344.9L329.5 344.9L326.9 346.2L324.9 346.2L322.2 347.6L319.6 347.6L318.9 348.2L316.3 348.2L315.6 348.9L311 348.9L310.3 349.6L295.7 349.6L295 348.9L290.4 348.9L289.7 348.2L287.1 348.2L286.4 347.6L283.8 347.6L281.1 346.2L279.1 346.2L276.5 344.9L275.2 344.9L273.2 343.6L271.8 343.6L262.6 339.0L259.2 336.3L256.6 335.0L254.6 333.0L253.9 333.0L251.3 330.3L250.6 330.3L242.7 322.4L242.7 321.7L240 319.1L240 318.4L238 316.4L238 315.7L234 310.4L229.4 301.2L229.4 299.8L228.1 297.8L228.1 296.5L226.8 293.9L226.8 291.9L225.4 289.2L225.4 286.6L224.8 285.9L224.8 283.3L224.1 282.6L224.1 278.0L223.4 277.3L223.4 262.7L224.1 262.0L224.1 257.4L224.8 256.7L224.8 254.1L225.4 253.4L225.4 250.8L226.8 248.1L226.8 246.1L228.1 243.5L228.1 242.2L229.4 240.2L229.4 238.8L234 229.6L236.7 226.2L238 223.6L240 221.6L240 220.9L242.7 218.3L242.7 217.6L250.6 209.7L251.3 209.7L253.9 207.0L254.6 207.0L256.6 205.0L259.2 203.7L262.6 201.0L271.8 196.4L273.2 196.4L275.2 195.1L276.5 195.1L279.1 193.8L281.1 193.8L283.8 192.4L286.4 192.4L287.1 191.8L289.7 191.8L290.4 191.1L295 191.1L295.7 190.4ZM297 215.0L283.1 216.7L270.4 220.3L259.2 225.7L254.5 228.9L250 232.9L246.4 236.9L243.3 241.3L240.9 246.1L239.3 250.8L238 256.1L237.5 261.4L237.5 266.7L238.1 272.7L239.5 278.6L241.3 283.9L244 289.6L247.3 295.0L255.3 304.5L260.4 309.1L265.9 313.2L271.8 316.8L277.7 319.7L289.7 323.7L295.7 324.8L302.3 325.4L309 325.3L314.9 324.6L326.2 321.7L337.6 316.4L347.8 309.1L356.2 300.5L362.3 291.2L364.7 285.9L366.5 280.6L368.2 270.0L368.3 264.0L367.7 258.7L364.9 248.8L360.3 240.2L354 232.9L345.4 226.4L334.8 221.1L322.9 217.3L310.3 215.3L297 215.0Z" fill="#ccff00" fill-rule="evenodd"/><path d="M295.7 190.4L310.3 190.4L311 191.1L315.6 191.1L316.3 191.8L318.9 191.8L319.6 192.4L322.2 192.4L324.9 193.8L326.9 193.8L329.5 195.1L330.8 195.1L332.8 196.4L334.2 196.4L343.4 201.0L348.7 205.0L349.4 205.0L351.4 207.0L352.1 207.0L354.7 209.7L355.4 209.7L363.3 217.6L363.3 218.3L366 220.9L366 221.6L368 223.6L369.3 226.2L372 229.6L376.6 238.8L376.6 240.2L377.9 242.2L377.9 243.5L379.2 246.1L379.2 248.1L380.6 250.8L380.6 253.4L381.2 254.1L381.2 256.7L381.9 257.4L381.9 262.0L382.6 262.7L382.6 277.3L381.9 278.0L381.9 282.6L381.2 283.3L381.2 285.9L380.6 286.6L380.6 289.2L379.2 291.9L379.2 293.9L377.9 296.5L377.9 297.8L376.6 299.8L376.6 301.2L372 310.4L368 315.7L368 316.4L366 318.4L366 319.1L363.3 321.7L363.3 322.4L355.4 330.3L354.7 330.3L352.1 333.0L351.4 333.0L349.4 335.0L348.7 335.0L343.4 339.0L334.2 343.6L332.8 343.6L330.8 344.9L329.5 344.9L326.9 346.2L324.9 346.2L322.2 347.6L319.6 347.6L318.9 348.2L316.3 348.2L315.6 348.9L311 348.9L310.3 349.6L295.7 349.6L295 348.9L290.4 348.9L289.7 348.2L287.1 348.2L286.4 347.6L283.8 347.6L281.1 346.2L279.1 346.2L276.5 344.9L275.2 344.9L273.2 343.6L271.8 343.6L262.6 339.0L259.2 336.3L256.6 335.0L254.6 333.0L253.9 333.0L251.3 330.3L250.6 330.3L242.7 322.4L242.7 321.7L240 319.1L240 318.4L238 316.4L238 315.7L234 310.4L229.4 301.2L229.4 299.8L228.1 297.8L228.1 296.5L226.8 293.9L226.8 291.9L225.4 289.2L225.4 286.6L224.8 285.9L224.8 283.3L224.1 282.6L224.1 278.0L223.4 277.3L223.4 262.7L224.1 262.0L224.1 257.4L224.8 256.7L224.8 254.1L225.4 253.4L225.4 250.8L226.8 248.1L226.8 246.1L228.1 243.5L228.1 242.2L229.4 240.2L229.4 238.8L234 229.6L236.7 226.2L238 223.6L240 221.6L240 220.9L242.7 218.3L242.7 217.6L250.6 209.7L251.3 209.7L253.9 207.0L254.6 207.0L256.6 205.0L259.2 203.7L262.6 201.0L271.8 196.4L273.2 196.4L275.2 195.1L276.5 195.1L279.1 193.8L281.1 193.8L283.8 192.4L286.4 192.4L287.1 191.8L289.7 191.8L290.4 191.1L295 191.1L295.7 190.4ZM293 213.0L278.5 215.4L265.7 219.6L259.9 222.4L254.6 225.6L249.5 229.6L245.4 233.5L242.3 237.5L239.4 242.3L237.1 247.5L235.5 252.8L234.6 258.7L234.3 264.7L234.7 270.7L235.8 276.6L237.6 282.6L240.1 288.6L243.3 294.4L247.1 299.8L251.7 305.1L256.6 309.9L262.6 314.6L268.5 318.6L274.5 321.7L280.7 324.4L287.1 326.4L293.7 327.8L300.3 328.6L307 328.7L313.6 328.1L320.2 326.9L332.2 322.8L343.4 316.5L353.4 308.2L361.3 298.7L367 288.6L368.9 283.3L370.4 277.3L371.4 266.0L371 260.1L370 254.8L366.6 245.2L361.3 236.8L354.1 229.4L344.4 222.9L332.8 217.8L320.2 214.4L307 212.8L293 213.0Z" fill="#ffff00" fill-rule="evenodd"/><path d="M295.7 190.4L310.3 190.4L311 191.1L315.6 191.1L316.3 191.8L318.9 191.8L319.6 192.4L322.2 192.4L324.9 193.8L326.9 193.8L329.5 195.1L330.8 195.1L332.8 196.4L334.2 196.4L343.4 201.0L348.7 205.0L349.4 205.0L351.4 207.0L352.1 207.0L354.7 209.7L355.4 209.7L363.3 217.6L363.3 218.3L366 220.9L366 221.6L368 223.6L369.3 226.2L372 229.6L376.6 238.8L376.6 240.2L377.9 242.2L377.9 243.5L379.2 246.1L379.2 248.1L380.6 250.8L380.6 253.4L381.2 254.1L381.2 256.7L381.9 257.4L381.9 262.0L382.6 262.7L382.6 277.3L381.9 278.0L381.9 282.6L381.2 283.3L381.2 285.9L380.6 286.6L380.6 289.2L379.2 291.9L379.2 293.9L377.9 296.5L377.9 297.8L376.6 299.8L376.6 301.2L372 310.4L368 315.7L368 316.4L366 318.4L366 319.1L363.3 321.7L363.3 322.4L355.4 330.3L354.7 330.3L352.1 333.0L351.4 333.0L349.4 335.0L348.7 335.0L343.4 339.0L334.2 343.6L332.8 343.6L330.8 344.9L329.5 344.9L326.9 346.2L324.9 346.2L322.2 347.6L319.6 347.6L318.9 348.2L316.3 348.2L315.6 348.9L311 348.9L310.3 349.6L295.7 349.6L295 348.9L290.4 348.9L289.7 348.2L287.1 348.2L286.4 347.6L283.8 347.6L281.1 346.2L279.1 346.2L276.5 344.9L275.2 344.9L273.2 343.6L271.8 343.6L262.6 339.0L259.2 336.3L256.6 335.0L254.6 333.0L253.9 333.0L251.3 330.3L250.6 330.3L242.7 322.4L242.7 321.7L240 319.1L240 318.4L238 316.4L238 315.7L234 310.4L229.4 301.2L229.4 299.8L228.1 297.8L228.1 296.5L226.8 293.9L226.8 291.9L225.4 289.2L225.4 286.6L224.8 285.9L224.8 283.3L224.1 282.6L224.1 278.0L223.4 277.3L223.4 262.7L224.1 262.0L224.1 257.4L224.8 256.7L224.8 254.1L225.4 253.4L225.4 250.8L226.8 248.1L226.8 246.1L228.1 243.5L228.1 242.2L229.4 240.2L229.4 238.8L234 229.6L236.7 226.2L238 223.6L240 221.6L240 220.9L242.7 218.3L242.7 217.6L250.6 209.7L251.3 209.7L253.9 207.0L254.6 207.0L256.6 205.0L259.2 203.7L262.6 201.0L271.8 196.4L273.2 196.4L275.2 195.1L276.5 195.1L279.1 193.8L281.1 193.8L283.8 192.4L286.4 192.4L287.1 191.8L289.7 191.8L290.4 191.1L295 191.1L295.7 190.4ZM290.9 211.0L283.1 212.1L275.8 213.8L268.5 216.0L261.9 218.8L255.9 221.9L250.6 225.4L246 229.2L241.8 233.5L238.4 238.2L235.9 242.8L233.7 248.1L232.2 254.1L231.5 260.1L231.4 266.7L232 272.7L233.4 279.1L235.4 285.2L238.1 291.2L241.7 297.2L246.1 303.1L250.9 308.5L256.6 313.7L262.6 318.3L269.2 322.4L275.8 325.7L282.4 328.3L289.1 330.1L295.7 331.3L302.3 331.9L309.6 331.7L316.3 330.9L322.9 329.5L334.8 325.0L346.1 318.3L351.4 314.1L356.7 309.1L364.7 299.1L368 293.4L370.4 287.9L373.6 276.6L374.3 270.7L374.4 264.7L373.8 258.7L372.6 252.8L368.6 242.8L362.7 234.2L354.7 226.7L344.4 220.3L332.2 215.3L318.9 212.0L305 210.5L290.9 211.0Z" fill="#ffc800" fill-rule="evenodd"/><path d="M295.7 190.4L310.3 190.4L311 191.1L315.6 191.1L316.3 191.8L318.9 191.8L319.6 192.4L322.2 192.4L324.9 193.8L326.9 193.8L329.5 195.1L330.8 195.1L332.8 196.4L334.2 196.4L343.4 201.0L348.7 205.0L349.4 205.0L351.4 207.0L352.1 207.0L354.7 209.7L355.4 209.7L363.3 217.6L363.3 218.3L366 220.9L366 221.6L368 223.6L369.3 226.2L372 229.6L376.6 238.8L376.6 240.2L377.9 242.2L377.9 243.5L379.2 246.1L379.2 248.1L380.6 250.8L380.6 253.4L381.2 254.1L381.2 256.7L381.9 257.4L381.9 262.0L382.6 262.7L382.6 277.3L381.9 278.0L381.9 282.6L381.2 283.3L381.2 285.9L380.6 286.6L380.6 289.2L379.2 291.9L379.2 293.9L377.9 296.5L377.9 297.8L376.6 299.8L376.6 301.2L372 310.4L368 315.7L368 316.4L366 318.4L366 319.1L363.3 321.7L363.3 322.4L355.4 330.3L354.7 330.3L352.1 333.0L351.4 333.0L349.4 335.0L348.7 335.0L343.4 339.0L334.2 343.6L332.8 343.6L330.8 344.9L329.5 344.9L326.9 346.2L324.9 346.2L322.2 347.6L319.6 347.6L318.9 348.2L316.3 348.2L315.6 348.9L311 348.9L310.3 349.6L295.7 349.6L295 348.9L290.4 348.9L289.7 348.2L287.1 348.2L286.4 347.6L283.8 347.6L281.1 346.2L279.1 346.2L276.5 344.9L275.2 344.9L273.2 343.6L271.8 343.6L262.6 339.0L259.2 336.3L256.6 335.0L254.6 333.0L253.9 333.0L251.3 330.3L250.6 330.3L242.7 322.4L242.7 321.7L240 319.1L240 318.4L238 316.4L238 315.7L234 310.4L229.4 301.2L229.4 299.8L228.1 297.8L228.1 296.5L226.8 293.9L226.8 291.9L225.4 289.2L225.4 286.6L224.8 285.9L224.8 283.3L224.1 282.6L224.1 278.0L223.4 277.3L223.4 262.7L224.1 262.0L224.1 257.4L224.8 256.7L224.8 254.1L225.4 253.4L225.4 250.8L226.8 248.1L226.8 246.1L228.1 243.5L228.1 242.2L229.4 240.2L229.4 238.8L234 229.6L236.7 226.2L238 223.6L240 221.6L240 220.9L242.7 218.3L242.7 217.6L250.6 209.7L251.3 209.7L253.9 207.0L254.6 207.0L256.6 205.0L259.2 203.7L262.6 201.0L271.8 196.4L273.2 196.4L275.2 195.1L276.5 195.1L279.1 193.8L281.1 193.8L283.8 192.4L286.4 192.4L287.1 191.8L289.7 191.8L290.4 191.1L295 191.1L295.7 190.4ZM299.5 208.3L291.7 208.8L283.8 209.8L269.2 213.5L261.9 216.3L255.9 219.2L249.9 222.9L244.8 226.9L240.7 230.9L237 235.5L234.1 240.2L231.7 245.5L229.9 251.4L228.9 257.4L228.5 263.4L228.8 270.0L229.9 276.6L231.7 283.3L234.4 289.9L237.6 295.9L241.5 301.8L246.4 307.8L251.9 313.4L257.9 318.4L263.9 322.6L270.5 326.5L277.1 329.5L283.8 331.9L290.4 333.5L297.7 334.6L305 334.9L312.3 334.6L318.9 333.6L325.5 331.9L331.9 329.7L338.1 326.8L344.1 323.3L350.1 319.0L355.4 314.4L360.5 309.1L364.8 303.8L368.6 298.0L371.5 292.5L374 286.6L375.7 280.6L376.8 274.0L377.3 267.3L377 261.4L376.1 255.4L374.7 250.1L372.7 244.8L370.3 240.2L367.1 235.5L363.3 231.1L354.4 223.6L348.7 220.1L342.6 217.0L328.9 212.1L314.3 209.1L299.5 208.3Z" fill="#ff9c00" fill-rule="evenodd"/><path d="M295.7 190.4L310.3 190.4L311 191.1L315.6 191.1L316.3 191.8L318.9 191.8L319.6 192.4L322.2 192.4L324.9 193.8L326.9 193.8L329.5 195.1L330.8 195.1L332.8 196.4L334.2 196.4L343.4 201.0L348.7 205.0L349.4 205.0L351.4 207.0L352.1 207.0L354.7 209.7L355.4 209.7L363.3 217.6L363.3 218.3L366 220.9L366 221.6L368 223.6L369.3 226.2L372 229.6L376.6 238.8L376.6 240.2L377.9 242.2L377.9 243.5L379.2 246.1L379.2 248.1L380.6 250.8L380.6 253.4L381.2 254.1L381.2 256.7L381.9 257.4L381.9 262.0L382.6 262.7L382.6 277.3L381.9 278.0L381.9 282.6L381.2 283.3L381.2 285.9L380.6 286.6L380.6 289.2L379.2 291.9L379.2 293.9L377.9 296.5L377.9 297.8L376.6 299.8L376.6 301.2L372 310.4L368 315.7L368 316.4L366 318.4L366 319.1L363.3 321.7L363.3 322.4L355.4 330.3L354.7 330.3L352.1 333.0L351.4 333.0L349.4 335.0L348.7 335.0L343.4 339.0L334.2 343.6L332.8 343.6L330.8 344.9L329.5 344.9L326.9 346.2L324.9 346.2L322.2 347.6L319.6 347.6L318.9 348.2L316.3 348.2L315.6 348.9L311 348.9L310.3 349.6L295.7 349.6L295 348.9L290.4 348.9L289.7 348.2L287.1 348.2L286.4 347.6L283.8 347.6L281.1 346.2L279.1 346.2L276.5 344.9L275.2 344.9L273.2 343.6L271.8 343.6L262.6 339.0L259.2 336.3L256.6 335.0L254.6 333.0L253.9 333.0L251.3 330.3L250.6 330.3L242.7 322.4L242.7 321.7L240 319.1L240 318.4L238 316.4L238 315.7L234 310.4L229.4 301.2L229.4 299.8L228.1 297.8L228.1 296.5L226.8 293.9L226.8 291.9L225.4 289.2L225.4 286.6L224.8 285.9L224.8 283.3L224.1 282.6L224.1 278.0L223.4 277.3L223.4 262.7L224.1 262.0L224.1 257.4L224.8 256.7L224.8 254.1L225.4 253.4L225.4 250.8L226.8 248.1L226.8 246.1L228.1 243.5L228.1 242.2L229.4 240.2L229.4 238.8L234 229.6L236.7 226.2L238 223.6L240 221.6L240 220.9L242.7 218.3L242.7 217.6L250.6 209.7L251.3 209.7L253.9 207.0L254.6 207.0L256.6 205.0L259.2 203.7L262.6 201.0L271.8 196.4L273.2 196.4L275.2 195.1L276.5 195.1L279.1 193.8L281.1 193.8L283.8 192.4L286.4 192.4L287.1 191.8L289.7 191.8L290.4 191.1L295 191.1L295.7 190.4ZM296 206.4L287.8 207.1L279.8 208.4L271.8 210.5L264.5 212.9L257.9 215.8L251.3 219.4L245.3 223.4L240.5 227.6L236.3 232.2L233 236.9L230.2 242.2L228 248.1L226.6 254.1L225.9 260.7L225.9 267.3L226.6 274.0L228.3 281.3L230.6 287.9L233.7 294.5L237.8 301.2L242.7 307.5L248 313.3L253.9 318.8L260.6 323.8L267.2 328.0L273.8 331.3L280.5 333.8L287.8 335.9L295 337.2L302.3 337.8L310.3 337.6L317.6 336.8L324.2 335.3L330.8 333.3L337.5 330.4L343.6 327.0L349.5 323.0L355.4 318.2L360.7 313.1L365.7 307.1L369.9 301.2L373.3 295.2L375.9 289.2L377.8 283.3L379.1 277.3L379.9 270.7L379.9 264.0L379.2 257.4L377.9 251.4L376.1 246.1L373.6 240.8L370.8 236.2L367.1 231.5L363.1 227.6L353.4 220.3L340.8 213.9L326.2 209.2L311 206.7L296 206.4Z" fill="#ff8800" fill-rule="evenodd"/><path d="M295.7 190.4L310.3 190.4L311 191.1L315.6 191.1L316.3 191.8L318.9 191.8L319.6 192.4L322.2 192.4L324.9 193.8L326.9 193.8L329.5 195.1L330.8 195.1L332.8 196.4L334.2 196.4L343.4 201.0L348.7 205.0L349.4 205.0L351.4 207.0L352.1 207.0L354.7 209.7L355.4 209.7L363.3 217.6L363.3 218.3L366 220.9L366 221.6L368 223.6L369.3 226.2L372 229.6L376.6 238.8L376.6 240.2L377.9 242.2L378.6 245.4L374.6 237.5L369 230.2L362 223.7L354.2 218.3L344.1 213.1L333.5 209.2L322.2 206.3L310.3 204.5L299 204.1L287.8 205.0L276.5 207.1L265.2 210.5L254.8 215.0L246 220.2L238.5 226.2L232.7 232.8L234 229.6L236.7 226.2L238 223.6L240 221.6L240 220.9L242.7 218.3L242.7 217.6L250.6 209.7L251.3 209.7L256.6 205.0L259.2 203.7L262.6 201.0L271.8 196.4L273.2 196.4L275.2 195.1L276.5 195.1L279.1 193.8L281.1 193.8L283.8 192.4L286.4 192.4L287.1 191.8L289.7 191.8L290.4 191.1L295 191.1L295.7 190.4ZM232.2 233.5L232.5 233.0L232.2 233.5ZM378.6 245.5L379.2 246.1L379.2 247.2L378.6 245.5ZM379.7 248.6L379.9 249.2L379.7 248.6ZM380.3 250.5L380.6 251.4L380.3 250.5ZM381.8 257.3L381.9 257.8L381.8 257.3ZM382.4 262.6L382.6 265.0L382.4 262.6ZM382.6 269.2L382.6 277.3L381.9 278.0L381.9 282.6L381.2 283.3L380.6 289.2L379.2 291.9L379.2 293.9L377.9 296.5L377.9 297.8L376.6 299.8L376.6 301.2L372 310.4L368 315.7L368 316.4L366 318.4L366 319.1L363.3 321.7L363.3 322.4L355.4 330.3L354.7 330.3L352.1 333.0L351.4 333.0L349.4 335.0L348.7 335.0L343.4 339.0L334.2 343.6L332.8 343.6L330.8 344.9L329.5 344.9L326.9 346.2L324.9 346.2L322.2 347.6L319.6 347.6L318.9 348.2L316.3 348.2L315.6 348.9L311 348.9L310.3 349.6L295.7 349.6L295 348.9L290.4 348.9L289.7 348.2L287.1 348.2L286.4 347.6L283.8 347.6L281.1 346.2L279.1 346.2L276.5 344.9L275.2 344.9L273.2 343.6L271.8 343.6L262.6 339.0L259.2 336.3L256.6 335.0L254.6 333.0L253.9 333.0L251.3 330.3L250.6 330.3L242.7 322.4L242.7 321.7L240 319.1L240 318.4L238 316.4L238 315.7L234 310.4L229.4 301.2L229.4 299.8L228.1 297.8L228.1 296.5L226.8 293.9L226.8 291.9L225.4 289.2L225.4 286.6L224.8 285.9L224.8 283.3L224.1 282.6L224.1 278.0L223.4 277.3L223.4 269.7L224.9 278.6L227.6 287.2L231.4 295.6L236.5 303.8L246 315.0L257.3 324.8L269.2 332.1L281.1 337.0L287.8 338.7L295 339.9L309 340.4L316.3 339.7L322.9 338.5L329.5 336.7L336.1 334.2L342.1 331.2L348.1 327.5L354 323.0L359.2 318.4L364.3 313.1L369 307.1L373 301.2L376.2 295.2L378.7 289.2L380.7 282.6L382 276.0L382.6 269.2Z" fill="#ff6600" fill-rule="evenodd"/><path d="M295.7 190.4L310.3 190.4L311 191.1L315.6 191.1L316.3 191.8L318.9 191.8L319.6 192.4L322.2 192.4L324.9 193.8L326.9 193.8L329.5 195.1L330.8 195.1L332.8 196.4L334.2 196.4L343.4 201.0L348.7 205.0L349.4 205.0L351.4 207.0L352.1 207.0L354.7 209.7L355.4 209.7L363.3 217.6L363.3 218.3L368 223.6L368 224.3L369.3 225.6L369.3 226.2L370.6 227.6L370.6 228.2L372 230.1L366.6 224.7L360 219.6L352.5 215.0L344.1 211.0L334.8 207.5L324.9 204.7L314.9 202.9L305.7 202.1L296.4 202.1L287.1 202.9L277.8 204.6L268.5 207.2L259.9 210.4L251.7 214.3L244.1 218.9L238 223.7L242.7 218.3L242.7 217.6L250.6 209.7L251.3 209.7L253.9 207.0L254.6 207.0L256.6 205.0L259.2 203.7L262.6 201.0L271.8 196.4L273.2 196.4L275.2 195.1L276.5 195.1L279.1 193.8L281.1 193.8L283.8 192.4L286.4 192.4L287.1 191.8L289.7 191.8L290.4 191.1L295 191.1L295.7 190.4ZM225.7 289.2L225.4 288.6L225.7 289.2ZM226.2 290.6L231.4 300.5L238.5 310.4L247.1 319.7L256.7 327.7L266.3 333.6L276.5 338.2L287.1 341.2L299 342.8L311 342.8L322.2 341.3L332.8 338.4L342.8 333.9L352.1 328.0L360.7 320.7L369.3 311.0L376.6 300.0L376.6 301.2L372 310.4L368 315.7L368 316.4L366 318.4L366 319.1L363.3 321.7L363.3 322.4L355.4 330.3L354.7 330.3L352.1 333.0L351.4 333.0L349.4 335.0L348.7 335.0L343.4 339.0L334.2 343.6L332.8 343.6L330.8 344.9L329.5 344.9L326.9 346.2L324.9 346.2L324.2 346.9L322.9 346.9L322.2 347.6L319.6 347.6L318.9 348.2L316.3 348.2L315.6 348.9L311 348.9L310.3 349.6L295.7 349.6L295 348.9L290.4 348.9L289.7 348.2L283.8 347.6L283.1 346.9L281.8 346.9L281.1 346.2L279.1 346.2L276.5 344.9L275.2 344.9L273.2 343.6L271.8 343.6L262.6 339.0L259.2 336.3L256.6 335.0L254.6 333.0L253.9 333.0L251.3 330.3L250.6 330.3L242.7 322.4L242.7 321.7L240 319.1L240 318.4L238 316.4L238 315.7L234 310.4L229.4 301.2L229.4 299.8L228.1 297.8L228.1 296.5L226.8 293.9L226.8 291.9L226.1 291.2L226.2 290.6ZM377.9 297.4L377.5 298.3L377.9 297.4ZM377.3 298.7L376.7 299.7L377.3 298.7Z" fill="#ff4c00" fill-rule="evenodd"/><path d="M295.7 190.4L310.3 190.4L311 191.1L315.6 191.1L316.3 191.8L318.9 191.8L319.6 192.4L322.2 192.4L324.9 193.8L326.9 193.8L329.5 195.1L330.8 195.1L332.8 196.4L334.2 196.4L343.4 201.0L348.7 205.0L349.4 205.0L351.4 207.0L352.1 207.0L354.7 209.7L355.4 209.7L363.3 217.6L363.3 218.3L366 220.9L366 221.5L359.7 217.0L352.9 213.0L345.4 209.4L337.5 206.3L329.5 203.8L320.9 201.8L312.3 200.4L304.3 199.8L296.4 199.9L288.4 200.6L272.5 203.9L264.5 206.4L256.6 209.7L249.9 213.0L243.3 217.0L250.6 209.7L251.3 209.7L253.9 207.0L254.6 207.0L256.6 205.0L259.2 203.7L262.6 201.0L271.8 196.4L273.2 196.4L275.2 195.1L276.5 195.1L279.1 193.8L281.1 193.8L283.8 192.4L286.4 192.4L287.1 191.8L289.7 191.8L290.4 191.1L295 191.1L295.7 190.4ZM231.5 305.1L231.7 305.5L231.5 305.1ZM232.4 306.5L238.6 314.4L245.6 321.7L253.3 328.3L261.2 333.8L269.2 337.9L277.8 341.2L287.1 343.6L296.4 344.9L306.3 345.3L316.3 344.7L326.2 342.9L335.1 340.3L342.8 336.9L350.7 332.2L358 326.6L366 319.1L363.3 321.7L363.3 322.4L355.4 330.3L354.7 330.3L352.1 333.0L351.4 333.0L349.4 335.0L348.7 335.0L343.4 339.0L334.2 343.6L332.8 343.6L330.8 344.9L329.5 344.9L326.9 346.2L324.9 346.2L324.2 346.9L322.9 346.9L322.2 347.6L319.6 347.6L318.9 348.2L316.3 348.2L315.6 348.9L311 348.9L310.3 349.6L295.7 349.6L295 348.9L290.4 348.9L289.7 348.2L283.8 347.6L281.1 346.2L279.1 346.2L276.5 344.9L275.2 344.9L273.2 343.6L271.8 343.6L262.6 339.0L259.2 336.3L256.6 335.0L251.3 330.3L250.6 330.3L242.7 322.4L242.7 321.7L240 319.1L240 318.4L238 316.4L238 315.7L234 310.4L232.1 306.5L232.1 306.0L232.4 306.5Z" fill="#ff2200" fill-rule="evenodd"/><path d="M295.7 190.4L310.3 190.4L311 191.1L315.6 191.1L316.3 191.8L322.2 192.4L324.9 193.8L326.9 193.8L329.5 195.1L330.8 195.1L332.8 196.4L334.2 196.4L343.4 201.0L348.7 205.0L349.4 205.0L354.7 209.7L355.4 209.7L361.5 215.8L348.7 208.8L333.5 202.9L318.2 199.0L304.3 197.4L291.1 197.9L277.1 200.5L262.6 205.0L249.1 211.2L253.9 207.0L254.6 207.0L256.6 205.0L259.2 203.7L262.6 201.0L271.8 196.4L273.2 196.4L275.2 195.1L276.5 195.1L279.1 193.8L281.1 193.8L283.8 192.4L286.4 192.4L287.1 191.8L289.7 191.8L290.4 191.1L295 191.1L295.7 190.4ZM242.8 322.4L251.9 330.4L261.9 337.0L272.5 341.9L283.8 345.2L297 347.1L311 347.3L324.2 345.7L335.9 342.5L334.2 343.6L332.8 343.6L330.8 344.9L329.5 344.9L326.9 346.2L324.9 346.2L322.2 347.6L319.6 347.6L318.9 348.2L316.3 348.2L315.6 348.9L311 348.9L310.3 349.6L295.7 349.6L295 348.9L290.4 348.9L289.7 348.2L283.8 347.6L283.1 346.9L281.8 346.9L281.1 346.2L279.1 346.2L276.5 344.9L275.2 344.9L273.2 343.6L271.8 343.6L262.6 339.0L259.2 336.3L256.6 335.0L254.6 333.0L253.9 333.0L251.3 330.3L250.6 330.3L242.8 322.4Z" fill="#ff0000" fill-rule="evenodd"/><path d="M295.7 190.4L310.3 190.4L311 191.1L315.6 191.1L316.3 191.8L318.9 191.8L319.6 192.4L322.2 192.4L324.9 193.8L326.9 193.8L329.5 195.1L330.8 195.1L332.8 196.4L334.2 196.4L343.4 201.0L348.7 205.0L349.4 205.0L351.4 207.0L352.1 207.0L354.7 209.7L342.1 203.9L328.9 199.3L315.6 196.1L303.7 194.8L292.4 195.2L281.1 197.1L268.5 200.7L255.9 205.7L258.6 203.7L259.2 203.7L260.6 202.4L261.2 202.4L262.6 201.0L271.8 196.4L273.2 196.4L275.2 195.1L276.5 195.1L279.1 193.8L281.1 193.8L283.8 192.4L286.4 192.4L287.1 191.8L289.7 191.8L290.4 191.1L295 191.1L295.7 190.4ZM355.4 209.7L356.1 210.4L354.7 209.7L355.4 209.7ZM283.8 347.3L285.2 347.6L283.8 347.3ZM287.1 347.9L289.3 348.2L287.1 348.2L286.7 347.8L287.1 347.9ZM290.4 348.4L295 348.9L290.4 348.9L289.8 348.3L290.4 348.4ZM295.7 349.0L310.6 349.2L310.3 349.6L295.7 349.6L295 348.9L295.7 349.0Z" fill="#c40000" fill-rule="evenodd"/></g><circle cx="303" cy="270" r="81" fill="none" stroke="#272d35" stroke-width="6"/><line x1="251.5" y1="211.9" x2="251.5" y2="328.1" stroke="#fff" stroke-opacity=".5" stroke-dasharray="2 1"/><line x1="244.9" y1="218.5" x2="361.1" y2="218.5" stroke="#fff" stroke-opacity=".5" stroke-dasharray="2 1"/><line x1="355.5" y1="211.9" x2="355.5" y2="328.1" stroke="#fff" stroke-opacity=".5" stroke-dasharray="2 1"/><line x1="244.9" y1="322.5" x2="361.1" y2="322.5" stroke="#fff" stroke-opacity=".5" stroke-dasharray="2 1"/><line x1="303.5" y1="190" x2="303.5" y2="350" stroke="#fff" stroke-opacity=".75"/><line x1="223" y1="270.5" x2="383" y2="270.5" stroke="#fff" stroke-opacity=".75"/><line x1="380.3" y1="256.4" x2="383.3" y2="255.8" stroke="#4b545f"/><line x1="376.8" y1="243.2" x2="379.6" y2="242.1" stroke="#4b545f"/><line x1="371.0" y1="230.8" x2="373.6" y2="229.2" stroke="#4b545f"/><line x1="363.1" y1="219.5" x2="365.4" y2="217.6" stroke="#4b545f"/><line x1="353.5" y1="209.9" x2="355.4" y2="207.6" stroke="#4b545f"/><line x1="342.2" y1="202.0" x2="343.8" y2="199.4" stroke="#4b545f"/><line x1="329.8" y1="196.2" x2="330.9" y2="193.4" stroke="#4b545f"/><line x1="316.6" y1="192.7" x2="317.2" y2="189.7" stroke="#4b545f"/><line x1="289.4" y1="192.7" x2="288.8" y2="189.7" stroke="#4b545f"/><line x1="276.2" y1="196.2" x2="275.1" y2="193.4" stroke="#4b545f"/><line x1="263.8" y1="202.0" x2="262.2" y2="199.4" stroke="#4b545f"/><line x1="252.5" y1="209.9" x2="250.6" y2="207.6" stroke="#4b545f"/><line x1="242.9" y1="219.5" x2="240.6" y2="217.6" stroke="#4b545f"/><line x1="235.0" y1="230.8" x2="232.4" y2="229.2" stroke="#4b545f"/><line x1="229.2" y1="243.2" x2="226.4" y2="242.1" stroke="#4b545f"/><line x1="225.7" y1="256.4" x2="222.7" y2="255.8" stroke="#4b545f"/><line x1="225.7" y1="283.6" x2="222.7" y2="284.2" stroke="#4b545f"/><line x1="229.2" y1="296.8" x2="226.4" y2="297.9" stroke="#4b545f"/><line x1="235.0" y1="309.2" x2="232.4" y2="310.8" stroke="#4b545f"/><line x1="242.9" y1="320.5" x2="240.6" y2="322.4" stroke="#4b545f"/><line x1="252.5" y1="330.1" x2="250.6" y2="332.4" stroke="#4b545f"/><line x1="263.7" y1="338.0" x2="262.2" y2="340.6" stroke="#4b545f"/><line x1="276.2" y1="343.8" x2="275.1" y2="346.6" stroke="#4b545f"/><line x1="289.4" y1="347.3" x2="288.8" y2="350.3" stroke="#4b545f"/><line x1="316.6" y1="347.3" x2="317.2" y2="350.3" stroke="#4b545f"/><line x1="329.8" y1="343.8" x2="330.9" y2="346.6" stroke="#4b545f"/><line x1="342.2" y1="338.0" x2="343.8" y2="340.6" stroke="#4b545f"/><line x1="353.5" y1="330.1" x2="355.4" y2="332.4" stroke="#4b545f"/><line x1="363.1" y1="320.5" x2="365.4" y2="322.4" stroke="#4b545f"/><line x1="371.0" y1="309.3" x2="373.6" y2="310.8" stroke="#4b545f"/><line x1="376.8" y1="296.8" x2="379.6" y2="297.9" stroke="#4b545f"/><line x1="380.3" y1="283.6" x2="383.3" y2="284.2" stroke="#4b545f"/><text x="390.0" y="272.5">0</text><text x="378.3" y="229.0">30</text><text x="346.5" y="197.2">60</text><text x="303.0" y="185.5">90</text><text x="259.5" y="197.2">120</text><text x="227.7" y="229.0">150</text><text x="216.0" y="272.5">180</text><text x="227.7" y="316.0">210</text><text x="259.5" y="347.8">240</text><text x="303.0" y="359.5">270</text><text x="346.5" y="347.8">300</text><text x="378.3" y="316.0">330</text><rect x="468" y="335.85" width="10" height="7.95" fill="#00009c"/><rect x="468" y="328.20" width="10" height="7.95" fill="#0000ff"/><rect x="468" y="320.54" width="10" height="7.95" fill="#0033ff"/><rect x="468" y="312.89" width="10" height="7.95" fill="#0060f5"/><rect x="468" y="305.24" width="10" height="7.95" fill="#0080ff"/><rect x="468" y="297.59" width="10" height="7.95" fill="#00b0f8"/><rect x="468" y="289.93" width="10" height="7.95" fill="#00f8ff"/><rect x="468" y="282.28" width="10" height="7.95" fill="#00ff9c"/><rect x="468" y="274.63" width="10" height="7.95" fill="#10e060"/><rect x="468" y="266.98" width="10" height="7.95" fill="#00e000"/><rect x="468" y="259.33" width="10" height="7.95" fill="#33ff00"/><rect x="468" y="251.67" width="10" height="7.95" fill="#6cff00"/><rect x="468" y="244.02" width="10" height="7.95" fill="#99ff00"/><rect x="468" y="236.37" width="10" height="7.95" fill="#ccff00"/><rect x="468" y="228.72" width="10" height="7.95" fill="#ffff00"/><rect x="468" y="221.07" width="10" height="7.95" fill="#ffc800"/><rect x="468" y="213.41" width="10" height="7.95" fill="#ff9c00"/><rect x="468" y="205.76" width="10" height="7.95" fill="#ff8800"/><rect x="468" y="198.11" width="10" height="7.95" fill="#ff6600"/><rect x="468" y="190.46" width="10" height="7.95" fill="#ff4c00"/><rect x="468" y="182.80" width="10" height="7.95" fill="#ff2200"/><rect x="468" y="175.15" width="10" height="7.95" fill="#ff0000"/><rect x="468" y="167.50" width="10" height="7.95" fill="#c40000"/><rect x="468" y="174.65" width="10" height="1" fill="#000" fill-opacity=".3"/><rect x="468" y="182.30" width="10" height="1" fill="#000" fill-opacity=".3"/><rect x="468" y="189.96" width="10" height="1" fill="#000" fill-opacity=".3"/><rect x="468" y="197.61" width="10" height="1" fill="#000" fill-opacity=".3"/><rect x="468" y="205.26" width="10" height="1" fill="#000" fill-opacity=".3"/><rect x="468" y="212.91" width="10" height="1" fill="#000" fill-opacity=".3"/><rect x="468" y="220.57" width="10" height="1" fill="#000" fill-opacity=".3"/><rect x="468" y="228.22" width="10" height="1" fill="#000" fill-opacity=".3"/><rect x="468" y="235.87" width="10" height="1" fill="#000" fill-opacity=".3"/><rect x="468" y="243.52" width="10" height="1" fill="#000" fill-opacity=".3"/><rect x="468" y="251.17" width="10" height="1" fill="#000" fill-opacity=".3"/><rect x="468" y="258.83" width="10" height="1" fill="#000" fill-opacity=".3"/><rect x="468" y="266.48" width="10" height="1" fill="#000" fill-opacity=".3"/><rect x="468" y="274.13" width="10" height="1" fill="#000" fill-opacity=".3"/><rect x="468" y="281.78" width="10" height="1" fill="#000" fill-opacity=".3"/><rect x="468" y="289.43" width="10" height="1" fill="#000" fill-opacity=".3"/><rect x="468" y="297.09" width="10" height="1" fill="#000" fill-opacity=".3"/><rect x="468" y="304.74" width="10" height="1" fill="#000" fill-opacity=".3"/><rect x="468" y="312.39" width="10" height="1" fill="#000" fill-opacity=".3"/><rect x="468" y="320.04" width="10" height="1" fill="#000" fill-opacity=".3"/><rect x="468" y="327.70" width="10" height="1" fill="#000" fill-opacity=".3"/><rect x="468" y="335.35" width="10" height="1" fill="#000" fill-opacity=".3"/><g shape-rendering="crispEdges"><circle cx="303" cy="570" r="79" fill="#6cff00"/><path d="M381.8 564.5L377.5 553.4L373.6 546.7L369.0 540.7L357.4 527.2L350.0 520.1L344.6 515.9L339.0 512.2L329.9 507.7L320.3 504.6L313.7 503.3L307.0 502.6L293.6 502.7L286.8 503.3L280.0 504.5L269.9 507.5L263.5 510.5L257.4 514.3L248.9 521.0L243.8 526.2L239.1 531.9L234.8 538.1L230.9 544.6L227.5 551.6L224.8 559.0L222.8 558.7L228.6 538.0L239.6 519.5L255.2 504.6L274.1 494.3L295.0 489.4L316.6 490.1L337.1 496.5L355.3 508.1L369.7 524.1L379.5 543.3L383.8 564.3Z" fill="#99ff00" fill-rule="evenodd"/><path d="M360.8 516.1L342.9 506.3L328.5 499.8L315.7 495.9L301.0 493.0L292.0 491.8L291.7 489.8L298.8 489.1L305.8 489.0L312.9 489.6L319.8 490.8L326.7 492.5L333.3 494.9L339.8 497.8L345.9 501.3L351.7 505.3L357.2 509.8L362.2 514.8Z" fill="#ccff00" fill-rule="evenodd"/><path d="M255.2 543.5L257.5 536.1L259.5 531.7L262.0 527.2L266.4 521.6L269.8 519.0L276.0 516.3L283.1 514.7L295.0 513.5L303.7 513.8L312.3 515.4L322.5 518.8L330.7 522.8L340.0 529.0L345.6 534.1L349.8 539.9L352.6 545.6L355.3 553.4L355.5 555.3L354.6 556.8L352.2 558.1L348.0 558.8L341.5 559.1L320.0 558.3L276.3 555.5L264.2 553.7L260.2 552.6L257.4 551.5L255.7 550.2L254.9 548.8L254.7 547.0L255.0 544.8Z" fill="#33ff00" fill-rule="evenodd"/><path d="M254.8 595.0L255.7 591.1L256.5 589.3L257.8 587.6L259.6 586.0L262.0 584.5L267.3 582.4L279.1 579.4L292.0 577.1L298.1 577.0L310.3 577.9L317.7 579.2L323.3 581.0L330.1 583.9L335.0 587.1L339.0 591.2L342.4 596.2L344.0 600.1L344.4 602.5L344.4 604.9L344.1 607.3L343.3 609.7L341.1 613.1L337.0 616.0L332.8 617.7L324.5 620.2L311.9 622.6L303.0 623.5L297.5 623.5L291.9 623.1L283.8 621.9L274.4 619.6L269.2 617.6L265.2 615.2L261.3 611.5L257.6 606.4L256.5 604.1L255.3 600.6L254.7 596.0Z" fill="#99ff00" fill-rule="evenodd"/><path d="M233.9 608.3L248.8 618.3L263.1 625.7L275.1 630.6L281.2 632.3L289.4 633.8L297.6 634.6L307.9 634.9L323.3 636.3L330.4 636.4L335.2 635.9L340.0 634.9L346.9 632.5L360.2 625.2L361.3 626.3L350.9 635.3L339.2 642.5L326.4 647.5L313.0 650.4L299.3 650.9L285.7 649.1L272.5 645.1L260.3 638.8L249.3 630.6L239.8 620.7L232.2 609.3Z" fill="#33ff00" fill-rule="evenodd"/><path d="M260.0 636.3L263.5 636.0L279.6 639.8L295.3 641.8L304.4 642.0L313.5 641.6L324.0 640.5L336.4 638.6L338.0 638.7L340.1 639.8L341.0 641.5L333.9 644.9L326.6 647.5L319.0 649.4L311.2 650.6L303.4 651.0L295.6 650.7L287.8 649.6L280.2 647.7L272.8 645.1L265.7 641.9L258.9 637.9Z" fill="#00e000" fill-rule="evenodd"/></g><circle cx="303" cy="570" r="81" fill="none" stroke="#272d35" stroke-width="6"/><line x1="251.5" y1="511.9" x2="251.5" y2="628.1" stroke="#fff" stroke-opacity=".5" stroke-dasharray="2 1"/><line x1="244.9" y1="518.5" x2="361.1" y2="518.5" stroke="#fff" stroke-opacity=".5" stroke-dasharray="2 1"/><line x1="355.5" y1="511.9" x2="355.5" y2="628.1" stroke="#fff" stroke-opacity=".5" stroke-dasharray="2 1"/><line x1="244.9" y1="622.5" x2="361.1" y2="622.5" stroke="#fff" stroke-opacity=".5" stroke-dasharray="2 1"/><line x1="303.5" y1="490" x2="303.5" y2="650" stroke="#fff" stroke-opacity=".75"/><line x1="223" y1="570.5" x2="383" y2="570.5" stroke="#fff" stroke-opacity=".75"/><line x1="380.3" y1="556.4" x2="383.3" y2="555.8" stroke="#4b545f"/><line x1="376.8" y1="543.2" x2="379.6" y2="542.1" stroke="#4b545f"/><line x1="371.0" y1="530.8" x2="373.6" y2="529.2" stroke="#4b545f"/><line x1="363.1" y1="519.5" x2="365.4" y2="517.6" stroke="#4b545f"/><line x1="353.5" y1="509.9" x2="355.4" y2="507.6" stroke="#4b545f"/><line x1="342.2" y1="502.0" x2="343.8" y2="499.4" stroke="#4b545f"/><line x1="329.8" y1="496.2" x2="330.9" y2="493.4" stroke="#4b545f"/><line x1="316.6" y1="492.7" x2="317.2" y2="489.7" stroke="#4b545f"/><line x1="289.4" y1="492.7" x2="288.8" y2="489.7" stroke="#4b545f"/><line x1="276.2" y1="496.2" x2="275.1" y2="493.4" stroke="#4b545f"/><line x1="263.8" y1="502.0" x2="262.2" y2="499.4" stroke="#4b545f"/><line x1="252.5" y1="509.9" x2="250.6" y2="507.6" stroke="#4b545f"/><line x1="242.9" y1="519.5" x2="240.6" y2="517.6" stroke="#4b545f"/><line x1="235.0" y1="530.8" x2="232.4" y2="529.2" stroke="#4b545f"/><line x1="229.2" y1="543.2" x2="226.4" y2="542.1" stroke="#4b545f"/><line x1="225.7" y1="556.4" x2="222.7" y2="555.8" stroke="#4b545f"/><line x1="225.7" y1="583.6" x2="222.7" y2="584.2" stroke="#4b545f"/><line x1="229.2" y1="596.8" x2="226.4" y2="597.9" stroke="#4b545f"/><line x1="235.0" y1="609.2" x2="232.4" y2="610.8" stroke="#4b545f"/><line x1="242.9" y1="620.5" x2="240.6" y2="622.4" stroke="#4b545f"/><line x1="252.5" y1="630.1" x2="250.6" y2="632.4" stroke="#4b545f"/><line x1="263.7" y1="638.0" x2="262.2" y2="640.6" stroke="#4b545f"/><line x1="276.2" y1="643.8" x2="275.1" y2="646.6" stroke="#4b545f"/><line x1="289.4" y1="647.3" x2="288.8" y2="650.3" stroke="#4b545f"/><line x1="316.6" y1="647.3" x2="317.2" y2="650.3" stroke="#4b545f"/><line x1="329.8" y1="643.8" x2="330.9" y2="646.6" stroke="#4b545f"/><line x1="342.2" y1="638.0" x2="343.8" y2="640.6" stroke="#4b545f"/><line x1="353.5" y1="630.1" x2="355.4" y2="632.4" stroke="#4b545f"/><line x1="363.1" y1="620.5" x2="365.4" y2="622.4" stroke="#4b545f"/><line x1="371.0" y1="609.2" x2="373.6" y2="610.8" stroke="#4b545f"/><line x1="376.8" y1="596.8" x2="379.6" y2="597.9" stroke="#4b545f"/><line x1="380.3" y1="583.6" x2="383.3" y2="584.2" stroke="#4b545f"/><text x="390.0" y="572.5">0</text><text x="378.3" y="529.0">30</text><text x="346.5" y="497.2">60</text><text x="303.0" y="485.5">90</text><text x="259.5" y="497.2">120</text><text x="227.7" y="529.0">150</text><text x="216.0" y="572.5">180</text><text x="227.7" y="616.0">210</text><text x="259.5" y="647.8">240</text><text x="303.0" y="659.5">270</text><text x="346.5" y="647.8">300</text><text x="378.3" y="616.0">330</text><rect x="468" y="635.85" width="10" height="7.95" fill="#00009c"/><rect x="468" y="628.20" width="10" height="7.95" fill="#0000ff"/><rect x="468" y="620.54" width="10" height="7.95" fill="#0033ff"/><rect x="468" y="612.89" width="10" height="7.95" fill="#0060f5"/><rect x="468" y="605.24" width="10" height="7.95" fill="#0080ff"/><rect x="468" y="597.59" width="10" height="7.95" fill="#00b0f8"/><rect x="468" y="589.93" width="10" height="7.95" fill="#00f8ff"/><rect x="468" y="582.28" width="10" height="7.95" fill="#00ff9c"/><rect x="468" y="574.63" width="10" height="7.95" fill="#10e060"/><rect x="468" y="566.98" width="10" height="7.95" fill="#00e000"/><rect x="468" y="559.33" width="10" height="7.95" fill="#33ff00"/><rect x="468" y="551.67" width="10" height="7.95" fill="#6cff00"/><rect x="468" y="544.02" width="10" height="7.95" fill="#99ff00"/><rect x="468" y="536.37" width="10" height="7.95" fill="#ccff00"/><rect x="468" y="528.72" width="10" height="7.95" fill="#ffff00"/><rect x="468" y="521.07" width="10" height="7.95" fill="#ffc800"/><rect x="468" y="513.41" width="10" height="7.95" fill="#ff9c00"/><rect x="468" y="505.76" width="10" height="7.95" fill="#ff8800"/><rect x="468" y="498.11" width="10" height="7.95" fill="#ff6600"/><rect x="468" y="490.46" width="10" height="7.95" fill="#ff4c00"/><rect x="468" y="482.80" width="10" height="7.95" fill="#ff2200"/><rect x="468" y="475.15" width="10" height="7.95" fill="#ff0000"/><rect x="468" y="467.50" width="10" height="7.95" fill="#c40000"/><rect x="468" y="474.65" width="10" height="1" fill="#000" fill-opacity=".3"/><rect x="468" y="482.30" width="10" height="1" fill="#000" fill-opacity=".3"/><rect x="468" y="489.96" width="10" height="1" fill="#000" fill-opacity=".3"/><rect x="468" y="497.61" width="10" height="1" fill="#000" fill-opacity=".3"/><rect x="468" y="505.26" width="10" height="1" fill="#000" fill-opacity=".3"/><rect x="468" y="512.91" width="10" height="1" fill="#000" fill-opacity=".3"/><rect x="468" y="520.57" width="10" height="1" fill="#000" fill-opacity=".3"/><rect x="468" y="528.22" width="10" height="1" fill="#000" fill-opacity=".3"/><rect x="468" y="535.87" width="10" height="1" fill="#000" fill-opacity=".3"/><rect x="468" y="543.52" width="10" height="1" fill="#000" fill-opacity=".3"/><rect x="468" y="551.17" width="10" height="1" fill="#000" fill-opacity=".3"/><rect x="468" y="558.83" width="10" height="1" fill="#000" fill-opacity=".3"/><rect x="468" y="566.48" width="10" height="1" fill="#000" fill-opacity=".3"/><rect x="468" y="574.13" width="10" height="1" fill="#000" fill-opacity=".3"/><rect x="468" y="581.78" width="10" height="1" fill="#000" fill-opacity=".3"/><rect x="468" y="589.43" width="10" height="1" fill="#000" fill-opacity=".3"/><rect x="468" y="597.09" width="10" height="1" fill="#000" fill-opacity=".3"/><rect x="468" y="604.74" width="10" height="1" fill="#000" fill-opacity=".3"/><rect x="468" y="612.39" width="10" height="1" fill="#000" fill-opacity=".3"/><rect x="468" y="620.04" width="10" height="1" fill="#000" fill-opacity=".3"/><rect x="468" y="627.70" width="10" height="1" fill="#000" fill-opacity=".3"/><rect x="468" y="635.35" width="10" height="1" fill="#000" fill-opacity=".3"/><g shape-rendering="crispEdges"><circle cx="698" cy="270" r="79" fill="#00b0f8"/><path d="M690.7 190.4L705.3 190.4L706 191.1L710.6 191.1L711.3 191.8L713.9 191.8L714.6 192.4L717.2 192.4L719.9 193.8L721.9 193.8L722.5 194.4L725.8 195.1L727.8 196.4L729.2 196.4L738.4 201.0L743.7 205.0L744.4 205.0L746.4 207.0L747.1 207.0L749.7 209.7L750.4 209.7L758.3 217.6L758.3 218.3L761 220.9L761 221.6L763 223.6L764.3 226.2L767 229.6L771.6 238.8L771.6 240.2L772.9 242.2L772.9 243.5L774.2 246.1L774.2 248.1L775.6 250.8L775.6 253.4L776.2 254.1L776.2 256.7L776.9 257.4L776.9 262.0L777.6 262.7L777.6 277.3L776.9 278.0L776.9 282.6L776.2 283.3L776.2 285.9L775.6 286.6L775.6 289.2L774.2 291.9L774.2 293.9L772.9 296.5L772.9 297.8L771.6 299.8L771.6 301.2L767 310.4L764.3 313.8L763 316.4L761 318.4L761 319.1L758.3 321.7L758.3 322.4L750.4 330.3L749.7 330.3L747.1 333.0L746.4 333.0L744.4 335.0L743.7 335.0L738.4 339.0L729.2 343.6L727.8 343.6L725.8 344.9L722.5 345.6L721.9 346.2L719.9 346.2L719.2 346.9L717.9 346.9L717.2 347.6L714.6 347.6L713.9 348.2L711.3 348.2L710.6 348.9L706 348.9L705.3 349.6L690.7 349.6L690 348.9L685.4 348.9L684.7 348.2L682.1 348.2L681.4 347.6L678.8 347.6L676.1 346.2L674.1 346.2L673.5 345.6L670.2 344.9L668.2 343.6L666.8 343.6L657.6 339.0L652.3 335.0L651.6 335.0L649.6 333.0L648.9 333.0L646.3 330.3L645.6 330.3L637.7 322.4L637.7 321.7L635 319.1L635 318.4L633 316.4L631.7 313.8L629 310.4L624.4 301.2L624.4 299.8L623.1 297.8L623.1 296.5L621.8 293.9L621.8 291.9L620.4 289.2L620.4 286.6L619.8 285.9L619.8 283.3L619.1 282.6L619.1 278.0L618.4 277.3L618.4 262.7L619.1 262.0L619.1 257.4L619.8 256.7L619.8 254.1L620.4 253.4L620.4 250.8L621.8 248.1L621.8 246.1L623.1 243.5L623.1 242.2L624.4 240.2L624.4 238.8L629 229.6L631.7 226.2L633 223.6L635 221.6L635 220.9L637.7 218.3L637.7 217.6L645.6 209.7L646.3 209.7L648.9 207.0L649.6 207.0L651.6 205.0L652.3 205.0L657.6 201.0L666.8 196.4L668.2 196.4L670.2 195.1L673.5 194.4L674.1 193.8L676.1 193.8L678.8 192.4L681.4 192.4L682.1 191.8L684.7 191.8L685.4 191.1L690 191.1L690.7 190.4ZM694.2 258.1L689.4 260.2L686 264.0L684.6 268.7L684.8 271.3L685.7 274.0L688.7 278.1L693.4 280.9L698.7 281.8L704.3 280.6L708.2 278.0L710.7 274.0L711.3 269.3L710.2 265.4L707.3 261.5L703.3 258.9L698.7 257.7L694.2 258.1Z" fill="#00f8ff" fill-rule="evenodd"/><path d="M690.7 190.4L705.3 190.4L706 191.1L710.6 191.1L711.3 191.8L713.9 191.8L714.6 192.4L717.2 192.4L719.9 193.8L721.9 193.8L722.5 194.4L725.8 195.1L727.8 196.4L729.2 196.4L738.4 201.0L743.7 205.0L744.4 205.0L746.4 207.0L747.1 207.0L749.7 209.7L750.4 209.7L758.3 217.6L758.3 218.3L761 220.9L761 221.6L763 223.6L764.3 226.2L767 229.6L771.6 238.8L771.6 240.2L772.9 242.2L772.9 243.5L774.2 246.1L774.2 248.1L775.6 250.8L775.6 253.4L776.2 254.1L776.2 256.7L776.9 257.4L776.9 262.0L777.6 262.7L777.6 277.3L776.9 278.0L776.9 282.6L776.2 283.3L776.2 285.9L775.6 286.6L775.6 289.2L774.2 291.9L774.2 293.9L772.9 296.5L772.9 297.8L771.6 299.8L771.6 301.2L767 310.4L764.3 313.8L763 316.4L761 318.4L761 319.1L758.3 321.7L758.3 322.4L750.4 330.3L749.7 330.3L747.1 333.0L746.4 333.0L744.4 335.0L743.7 335.0L738.4 339.0L729.2 343.6L727.8 343.6L725.8 344.9L722.5 345.6L721.9 346.2L719.9 346.2L719.2 346.9L717.9 346.9L717.2 347.6L714.6 347.6L713.9 348.2L711.3 348.2L710.6 348.9L706 348.9L705.3 349.6L690.7 349.6L690 348.9L685.4 348.9L684.7 348.2L682.1 348.2L681.4 347.6L678.8 347.6L676.1 346.2L674.1 346.2L673.5 345.6L670.2 344.9L668.2 343.6L666.8 343.6L657.6 339.0L652.3 335.0L651.6 335.0L649.6 333.0L648.9 333.0L646.3 330.3L645.6 330.3L637.7 322.4L637.7 321.7L635 319.1L635 318.4L633 316.4L631.7 313.8L629 310.4L624.4 301.2L624.4 299.8L623.1 297.8L623.1 296.5L621.8 293.9L621.8 291.9L620.4 289.2L620.4 286.6L619.8 285.9L619.8 283.3L619.1 282.6L619.1 278.0L618.4 277.3L618.4 262.7L619.1 262.0L619.1 257.4L619.8 256.7L619.8 254.1L620.4 253.4L620.4 250.8L621.8 248.1L621.8 246.1L623.1 243.5L623.1 242.2L624.4 240.2L624.4 238.8L629 229.6L631.7 226.2L633 223.6L635 221.6L635 220.9L637.7 218.3L637.7 217.6L645.6 209.7L646.3 209.7L648.9 207.0L649.6 207.0L651.6 205.0L652.3 205.0L657.6 201.0L666.8 196.4L668.2 196.4L670.2 195.1L673.5 194.4L674.1 193.8L676.1 193.8L678.8 192.4L681.4 192.4L682.1 191.8L684.7 191.8L685.4 191.1L690 191.1L690.7 190.4ZM691.8 245.5L686.7 246.8L681.5 249.4L677.3 252.8L674.1 256.7L671.9 261.4L670.7 266.7L670.9 272.0L672 276.6L674.3 281.3L677.4 285.3L682.1 289.2L686.9 291.9L692 293.6L698 294.4L704 294.1L709.3 292.7L713.7 290.6L717.4 287.9L720.6 284.6L723.1 280.6L724.6 276.6L725.3 272.0L725.1 267.3L723.9 262.7L721.9 258.6L719 254.8L715.5 251.4L711.3 248.7L706.6 246.7L702 245.5L696.7 245.1L691.8 245.5Z" fill="#00ff9c" fill-rule="evenodd"/><path d="M690.7 190.4L705.3 190.4L706 191.1L710.6 191.1L711.3 191.8L713.9 191.8L714.6 192.4L717.2 192.4L719.9 193.8L721.9 193.8L722.5 194.4L725.8 195.1L727.8 196.4L729.2 196.4L738.4 201.0L743.7 205.0L744.4 205.0L746.4 207.0L747.1 207.0L749.7 209.7L750.4 209.7L758.3 217.6L758.3 218.3L761 220.9L761 221.6L763 223.6L764.3 226.2L767 229.6L771.6 238.8L771.6 240.2L772.9 242.2L772.9 243.5L774.2 246.1L774.2 248.1L775.6 250.8L775.6 253.4L776.2 254.1L776.2 256.7L776.9 257.4L776.9 262.0L777.6 262.7L777.6 277.3L776.9 278.0L776.9 282.6L776.2 283.3L776.2 285.9L775.6 286.6L775.6 289.2L774.2 291.9L774.2 293.9L772.9 296.5L772.9 297.8L771.6 299.8L771.6 301.2L767 310.4L764.3 313.8L763 316.4L761 318.4L761 319.1L758.3 321.7L758.3 322.4L750.4 330.3L749.7 330.3L747.1 333.0L746.4 333.0L744.4 335.0L743.7 335.0L738.4 339.0L729.2 343.6L727.8 343.6L725.8 344.9L722.5 345.6L721.9 346.2L719.9 346.2L719.2 346.9L717.9 346.9L717.2 347.6L714.6 347.6L713.9 348.2L711.3 348.2L710.6 348.9L706 348.9L705.3 349.6L690.7 349.6L690 348.9L685.4 348.9L684.7 348.2L682.1 348.2L681.4 347.6L678.8 347.6L676.1 346.2L674.1 346.2L673.5 345.6L670.2 344.9L668.2 343.6L666.8 343.6L657.6 339.0L652.3 335.0L651.6 335.0L649.6 333.0L648.9 333.0L646.3 330.3L645.6 330.3L637.7 322.4L637.7 321.7L635 319.1L635 318.4L633 316.4L631.7 313.8L629 310.4L624.4 301.2L624.4 299.8L623.1 297.8L623.1 296.5L621.8 293.9L621.8 291.9L620.4 289.2L620.4 286.6L619.8 285.9L619.8 283.3L619.1 282.6L619.1 278.0L618.4 277.3L618.4 262.7L619.1 262.0L619.1 257.4L619.8 256.7L619.8 254.1L620.4 253.4L620.4 250.8L621.8 248.1L621.8 246.1L623.1 243.5L623.1 242.2L624.4 240.2L624.4 238.8L629 229.6L631.7 226.2L633 223.6L635 221.6L635 220.9L637.7 218.3L637.7 217.6L645.6 209.7L646.3 209.7L648.9 207.0L649.6 207.0L651.6 205.0L652.3 205.0L657.6 201.0L666.8 196.4L668.2 196.4L670.2 195.1L673.5 194.4L674.1 193.8L676.1 193.8L678.8 192.4L681.4 192.4L682.1 191.8L684.7 191.8L685.4 191.1L690 191.1L690.7 190.4ZM689.7 237.5L682.5 239.5L676 242.8L670.3 247.5L666.1 252.8L663.2 258.7L661.8 265.4L661.9 272.7L663.7 279.3L666.8 285.5L671.5 291.2L677.4 296.0L684.1 299.5L691.4 301.7L698.7 302.6L706 302.1L713.2 300.1L719.2 297.2L723.9 293.8L728.2 289.2L731.4 283.9L733.4 278.6L734.3 272.7L734 266.7L732.5 260.7L729.8 255.1L726.2 250.1L721.3 245.5L715.9 241.9L709.9 239.2L703.3 237.5L696.7 236.9L689.7 237.5Z" fill="#10e060" fill-rule="evenodd"/><path d="M690.7 190.4L705.3 190.4L706 191.1L710.6 191.1L711.3 191.8L713.9 191.8L714.6 192.4L717.2 192.4L719.9 193.8L721.9 193.8L722.5 194.4L725.8 195.1L727.8 196.4L729.2 196.4L738.4 201.0L743.7 205.0L744.4 205.0L746.4 207.0L747.1 207.0L749.7 209.7L750.4 209.7L758.3 217.6L758.3 218.3L761 220.9L761 221.6L763 223.6L764.3 226.2L767 229.6L771.6 238.8L771.6 240.2L772.9 242.2L772.9 243.5L774.2 246.1L774.2 248.1L775.6 250.8L775.6 253.4L776.2 254.1L776.2 256.7L776.9 257.4L776.9 262.0L777.6 262.7L777.6 277.3L776.9 278.0L776.9 282.6L776.2 283.3L776.2 285.9L775.6 286.6L775.6 289.2L774.2 291.9L774.2 293.9L772.9 296.5L772.9 297.8L771.6 299.8L771.6 301.2L767 310.4L764.3 313.8L763 316.4L761 318.4L761 319.1L758.3 321.7L758.3 322.4L750.4 330.3L749.7 330.3L747.1 333.0L746.4 333.0L744.4 335.0L743.7 335.0L738.4 339.0L729.2 343.6L727.8 343.6L725.8 344.9L722.5 345.6L721.9 346.2L719.9 346.2L719.2 346.9L717.9 346.9L717.2 347.6L714.6 347.6L713.9 348.2L711.3 348.2L710.6 348.9L706 348.9L705.3 349.6L690.7 349.6L690 348.9L685.4 348.9L684.7 348.2L682.1 348.2L681.4 347.6L678.8 347.6L676.1 346.2L674.1 346.2L673.5 345.6L670.2 344.9L668.2 343.6L666.8 343.6L657.6 339.0L652.3 335.0L651.6 335.0L649.6 333.0L648.9 333.0L646.3 330.3L645.6 330.3L637.7 322.4L637.7 321.7L635 319.1L635 318.4L633 316.4L631.7 313.8L629 310.4L624.4 301.2L624.4 299.8L623.1 297.8L623.1 296.5L621.8 293.9L621.8 291.9L620.4 289.2L620.4 286.6L619.8 285.9L619.8 283.3L619.1 282.6L619.1 278.0L618.4 277.3L618.4 262.7L619.1 262.0L619.1 257.4L619.8 256.7L619.8 254.1L620.4 253.4L620.4 250.8L621.8 248.1L621.8 246.1L623.1 243.5L623.1 242.2L624.4 240.2L624.4 238.8L629 229.6L631.7 226.2L633 223.6L635 221.6L635 220.9L637.7 218.3L637.7 217.6L645.6 209.7L646.3 209.7L648.9 207.0L649.6 207.0L651.6 205.0L652.3 205.0L657.6 201.0L666.8 196.4L668.2 196.4L670.2 195.1L673.5 194.4L674.1 193.8L676.1 193.8L678.8 192.4L681.4 192.4L682.1 191.8L684.7 191.8L685.4 191.1L690 191.1L690.7 190.4ZM689.6 230.9L680.8 233.0L672.8 236.7L666.2 241.7L660.6 248.1L656.7 255.4L654.7 263.4L654.5 271.3L656.2 279.3L659.5 286.8L664.7 293.9L671.4 299.8L679.2 304.5L688.1 307.6L696.7 309.0L706 308.7L714.6 306.7L721.9 303.5L728.3 299.2L733.5 293.9L737.5 287.9L740.2 281.3L741.5 274.0L741.3 266.7L739.7 260.1L736.8 253.4L732.5 247.1L726.9 241.5L720.5 237.0L713.2 233.5L705.3 231.3L697.3 230.4L689.6 230.9Z" fill="#00e000" fill-rule="evenodd"/><path d="M690.7 190.4L705.3 190.4L706 191.1L710.6 191.1L711.3 191.8L713.9 191.8L714.6 192.4L717.2 192.4L719.9 193.8L721.9 193.8L722.5 194.4L725.8 195.1L727.8 196.4L729.2 196.4L738.4 201.0L743.7 205.0L744.4 205.0L746.4 207.0L747.1 207.0L749.7 209.7L750.4 209.7L758.3 217.6L758.3 218.3L761 220.9L761 221.6L763 223.6L764.3 226.2L767 229.6L771.6 238.8L771.6 240.2L772.9 242.2L772.9 243.5L774.2 246.1L774.2 248.1L775.6 250.8L775.6 253.4L776.2 254.1L776.2 256.7L776.9 257.4L776.9 262.0L777.6 262.7L777.6 277.3L776.9 278.0L776.9 282.6L776.2 283.3L776.2 285.9L775.6 286.6L775.6 289.2L774.2 291.9L774.2 293.9L772.9 296.5L772.9 297.8L771.6 299.8L771.6 301.2L767 310.4L764.3 313.8L763 316.4L761 318.4L761 319.1L758.3 321.7L758.3 322.4L750.4 330.3L749.7 330.3L747.1 333.0L746.4 333.0L744.4 335.0L743.7 335.0L738.4 339.0L729.2 343.6L727.8 343.6L725.8 344.9L722.5 345.6L721.9 346.2L719.9 346.2L719.2 346.9L717.9 346.9L717.2 347.6L714.6 347.6L713.9 348.2L711.3 348.2L710.6 348.9L706 348.9L705.3 349.6L690.7 349.6L690 348.9L685.4 348.9L684.7 348.2L682.1 348.2L681.4 347.6L678.8 347.6L676.1 346.2L674.1 346.2L673.5 345.6L670.2 344.9L668.2 343.6L666.8 343.6L657.6 339.0L652.3 335.0L651.6 335.0L649.6 333.0L648.9 333.0L646.3 330.3L645.6 330.3L637.7 322.4L637.7 321.7L635 319.1L635 318.4L633 316.4L631.7 313.8L629 310.4L624.4 301.2L624.4 299.8L623.1 297.8L623.1 296.5L621.8 293.9L621.8 291.9L620.4 289.2L620.4 286.6L619.8 285.9L619.8 283.3L619.1 282.6L619.1 278.0L618.4 277.3L618.4 262.7L619.1 262.0L619.1 257.4L619.8 256.7L619.8 254.1L620.4 253.4L620.4 250.8L621.8 248.1L621.8 246.1L623.1 243.5L623.1 242.2L624.4 240.2L624.4 238.8L629 229.6L631.7 226.2L633 223.6L635 221.6L635 220.9L637.7 218.3L637.7 217.6L645.6 209.7L646.3 209.7L648.9 207.0L649.6 207.0L651.6 205.0L652.3 205.0L657.6 201.0L666.8 196.4L668.2 196.4L670.2 195.1L673.5 194.4L674.1 193.8L676.1 193.8L678.8 192.4L681.4 192.4L682.1 191.8L684.7 191.8L685.4 191.1L690 191.1L690.7 190.4ZM693 224.9L682.8 226.4L673.5 229.7L665 234.9L658.2 241.2L653 248.8L649.5 257.4L648.2 266.7L649 276.0L651.7 284.6L656.7 293.2L663.2 300.5L671.1 306.5L680.1 310.9L690 313.7L700.7 314.7L710.6 313.6L719.2 311.2L727.2 307.3L734.4 301.8L739.8 295.8L744.1 288.6L746.8 280.6L747.8 272.0L747.1 263.9L744.5 255.4L740.4 247.9L734.7 240.8L727.8 235.0L719.9 230.3L711.3 227.0L702 225.2L693 224.9Z" fill="#33ff00" fill-rule="evenodd"/><path d="M690.7 190.4L705.3 190.4L706 191.1L710.6 191.1L711.3 191.8L713.9 191.8L714.6 192.4L717.2 192.4L719.9 193.8L721.9 193.8L722.5 194.4L725.8 195.1L727.8 196.4L729.2 196.4L738.4 201.0L743.7 205.0L744.4 205.0L746.4 207.0L747.1 207.0L749.7 209.7L750.4 209.7L758.3 217.6L758.3 218.3L761 220.9L761 221.6L763 223.6L764.3 226.2L767 229.6L771.6 238.8L771.6 240.2L772.9 242.2L772.9 243.5L774.2 246.1L774.2 248.1L775.6 250.8L775.6 253.4L776.2 254.1L776.2 256.7L776.9 257.4L776.9 262.0L777.6 262.7L777.6 277.3L776.9 278.0L776.9 282.6L776.2 283.3L776.2 285.9L775.6 286.6L775.6 289.2L774.2 291.9L774.2 293.9L772.9 296.5L772.9 297.8L771.6 299.8L771.6 301.2L767 310.4L764.3 313.8L763 316.4L761 318.4L761 319.1L758.3 321.7L758.3 322.4L750.4 330.3L749.7 330.3L747.1 333.0L746.4 333.0L744.4 335.0L743.7 335.0L738.4 339.0L729.2 343.6L727.8 343.6L725.8 344.9L722.5 345.6L721.9 346.2L719.9 346.2L719.2 346.9L717.9 346.9L717.2 347.6L714.6 347.6L713.9 348.2L711.3 348.2L710.6 348.9L706 348.9L705.3 349.6L690.7 349.6L690 348.9L685.4 348.9L684.7 348.2L682.1 348.2L681.4 347.6L678.8 347.6L676.1 346.2L674.1 346.2L673.5 345.6L670.2 344.9L668.2 343.6L666.8 343.6L657.6 339.0L652.3 335.0L651.6 335.0L649.6 333.0L648.9 333.0L646.3 330.3L645.6 330.3L637.7 322.4L637.7 321.7L635 319.1L635 318.4L633 316.4L631.7 313.8L629 310.4L624.4 301.2L624.4 299.8L623.1 297.8L623.1 296.5L621.8 293.9L621.8 291.9L620.4 289.2L620.4 286.6L619.8 285.9L619.8 283.3L619.1 282.6L619.1 278.0L618.4 277.3L618.4 262.7L619.1 262.0L619.1 257.4L619.8 256.7L619.8 254.1L620.4 253.4L620.4 250.8L621.8 248.1L621.8 246.1L623.1 243.5L623.1 242.2L624.4 240.2L624.4 238.8L629 229.6L631.7 226.2L633 223.6L635 221.6L635 220.9L637.7 218.3L637.7 217.6L645.6 209.7L646.3 209.7L648.9 207.0L649.6 207.0L651.6 205.0L652.3 205.0L657.6 201.0L666.8 196.4L668.2 196.4L670.2 195.1L673.5 194.4L674.1 193.8L676.1 193.8L678.8 192.4L681.4 192.4L682.1 191.8L684.7 191.8L685.4 191.1L690 191.1L690.7 190.4ZM688.4 220.3L682.8 221.2L676.8 222.9L666.8 227.3L658.2 233.5L651 241.5L648.1 246.1L645.9 250.8L644.3 255.4L643.1 260.7L642.6 266.0L642.7 271.3L644.7 281.3L648.9 291.0L655.3 299.8L663.5 307.4L673.5 313.5L684.1 317.5L695.3 319.4L706.6 319.3L717.9 317.1L727.2 313.3L735.1 308.2L741.9 301.8L747.6 293.9L751.3 285.2L753.1 276.6L753.2 267.3L751.4 258.7L747.9 250.1L742.8 242.2L735.9 234.9L727.8 228.9L718.6 224.3L708.6 221.2L698.7 219.9L688.4 220.3Z" fill="#6cff00" fill-rule="evenodd"/><path d="M690.7 190.4L705.3 190.4L706 191.1L710.6 191.1L711.3 191.8L713.9 191.8L714.6 192.4L717.2 192.4L719.9 193.8L721.9 193.8L722.5 194.4L725.8 195.1L727.8 196.4L729.2 196.4L738.4 201.0L743.7 205.0L744.4 205.0L746.4 207.0L747.1 207.0L749.7 209.7L750.4 209.7L758.3 217.6L758.3 218.3L761 220.9L761 221.6L763 223.6L764.3 226.2L767 229.6L771.6 238.8L771.6 240.2L772.9 242.2L772.9 243.5L774.2 246.1L774.2 248.1L775.6 250.8L775.6 253.4L776.2 254.1L776.2 256.7L776.9 257.4L776.9 262.0L777.6 262.7L777.6 277.3L776.9 278.0L776.9 282.6L776.2 283.3L776.2 285.9L775.6 286.6L775.6 289.2L774.2 291.9L774.2 293.9L772.9 296.5L772.9 297.8L771.6 299.8L771.6 301.2L767 310.4L764.3 313.8L763 316.4L761 318.4L761 319.1L758.3 321.7L758.3 322.4L750.4 330.3L749.7 330.3L747.1 333.0L746.4 333.0L744.4 335.0L743.7 335.0L738.4 339.0L729.2 343.6L727.8 343.6L725.8 344.9L722.5 345.6L721.9 346.2L719.9 346.2L719.2 346.9L717.9 346.9L717.2 347.6L714.6 347.6L713.9 348.2L711.3 348.2L710.6 348.9L706 348.9L705.3 349.6L690.7 349.6L690 348.9L685.4 348.9L684.7 348.2L682.1 348.2L681.4 347.6L678.8 347.6L676.1 346.2L674.1 346.2L673.5 345.6L670.2 344.9L668.2 343.6L666.8 343.6L657.6 339.0L652.3 335.0L651.6 335.0L649.6 333.0L648.9 333.0L646.3 330.3L645.6 330.3L637.7 322.4L637.7 321.7L635 319.1L635 318.4L633 316.4L631.7 313.8L629 310.4L624.4 301.2L624.4 299.8L623.1 297.8L623.1 296.5L621.8 293.9L621.8 291.9L620.4 289.2L620.4 286.6L619.8 285.9L619.8 283.3L619.1 282.6L619.1 278.0L618.4 277.3L618.4 262.7L619.1 262.0L619.1 257.4L619.8 256.7L619.8 254.1L620.4 253.4L620.4 250.8L621.8 248.1L621.8 246.1L623.1 243.5L623.1 242.2L624.4 240.2L624.4 238.8L629 229.6L631.7 226.2L633 223.6L635 221.6L635 220.9L637.7 218.3L637.7 217.6L645.6 209.7L646.3 209.7L648.9 207.0L649.6 207.0L651.6 205.0L652.3 205.0L657.6 201.0L666.8 196.4L668.2 196.4L670.2 195.1L673.5 194.4L674.1 193.8L676.1 193.8L678.8 192.4L681.4 192.4L682.1 191.8L684.7 191.8L685.4 191.1L690 191.1L690.7 190.4ZM688.6 215.6L676.8 218.0L670.8 220.1L665.5 222.6L660.2 225.8L655.6 229.3L651.1 233.5L647.6 237.7L644.3 242.6L641.8 247.5L639.7 252.8L638.4 258.1L637.7 263.4L637.5 269.3L638.1 275.3L639.3 280.6L641.1 285.9L643.5 291.2L646.7 296.5L650.1 301.2L654.2 305.6L658.9 309.7L669.1 316.4L680.8 321.2L686.7 322.8L693.4 323.8L706 324.0L717.9 321.9L727.8 318.2L737.1 312.8L745 305.8L751.1 297.8L755.6 288.6L758 278.6L758.4 268.7L756.6 258.7L753 249.3L747.3 240.2L739.9 232.2L731.2 225.6L721.2 220.4L710.6 217.0L700 215.5L688.6 215.6Z" fill="#99ff00" fill-rule="evenodd"/><path d="M690.7 190.4L705.3 190.4L706 191.1L710.6 191.1L711.3 191.8L713.9 191.8L714.6 192.4L717.2 192.4L719.9 193.8L721.9 193.8L722.5 194.4L725.8 195.1L727.8 196.4L729.2 196.4L738.4 201.0L743.7 205.0L744.4 205.0L746.4 207.0L747.1 207.0L749.7 209.7L750.4 209.7L758.3 217.6L758.3 218.3L761 220.9L761 221.6L763 223.6L764.3 226.2L767 229.6L771.6 238.8L771.6 240.2L772.9 242.2L772.9 243.5L774.2 246.1L774.2 248.1L775.6 250.8L775.6 253.4L776.2 254.1L776.2 256.7L776.9 257.4L776.9 262.0L777.6 262.7L777.6 277.3L776.9 278.0L776.9 282.6L776.2 283.3L776.2 285.9L775.6 286.6L775.6 289.2L774.2 291.9L774.2 293.9L772.9 296.5L772.9 297.8L771.6 299.8L771.6 301.2L767 310.4L764.3 313.8L763 316.4L761 318.4L761 319.1L758.3 321.7L758.3 322.4L750.4 330.3L749.7 330.3L747.1 333.0L746.4 333.0L744.4 335.0L743.7 335.0L738.4 339.0L729.2 343.6L727.8 343.6L725.8 344.9L722.5 345.6L721.9 346.2L719.9 346.2L719.2 346.9L717.9 346.9L717.2 347.6L714.6 347.6L713.9 348.2L711.3 348.2L710.6 348.9L706 348.9L705.3 349.6L690.7 349.6L690 348.9L685.4 348.9L684.7 348.2L682.1 348.2L681.4 347.6L678.8 347.6L676.1 346.2L674.1 346.2L673.5 345.6L670.2 344.9L668.2 343.6L666.8 343.6L657.6 339.0L652.3 335.0L651.6 335.0L649.6 333.0L648.9 333.0L646.3 330.3L645.6 330.3L637.7 322.4L637.7 321.7L635 319.1L635 318.4L633 316.4L631.7 313.8L629 310.4L624.4 301.2L624.4 299.8L623.1 297.8L623.1 296.5L621.8 293.9L621.8 291.9L620.4 289.2L620.4 286.6L619.8 285.9L619.8 283.3L619.1 282.6L619.1 278.0L618.4 277.3L618.4 262.7L619.1 262.0L619.1 257.4L619.8 256.7L619.8 254.1L620.4 253.4L620.4 250.8L621.8 248.1L621.8 246.1L623.1 243.5L623.1 242.2L624.4 240.2L624.4 238.8L629 229.6L631.7 226.2L633 223.6L635 221.6L635 220.9L637.7 218.3L637.7 217.6L645.6 209.7L646.3 209.7L648.9 207.0L649.6 207.0L651.6 205.0L652.3 205.0L657.6 201.0L666.8 196.4L668.2 196.4L670.2 195.1L673.5 194.4L674.1 193.8L676.1 193.8L678.8 192.4L681.4 192.4L682.1 191.8L684.7 191.8L685.4 191.1L690 191.1L690.7 190.4ZM686 211.7L679.4 212.8L672.8 214.7L666.8 217.0L660.9 220.1L655.6 223.6L650.6 227.6L646.3 232.0L642.4 236.9L639.1 242.2L636.6 247.5L634.6 253.4L633.3 259.4L632.8 265.4L632.9 271.3L633.7 277.3L635.2 283.3L637.5 289.2L640.1 294.5L643.6 300.0L647.7 305.1L652.3 309.8L657.6 314.1L662.9 317.8L668.9 321.1L675 323.7L681.4 325.8L688.1 327.3L695.3 328.2L702 328.4L708.6 328.0L715.2 327.0L721.9 325.2L732.5 320.9L742.4 314.4L750.4 306.7L756.6 297.8L760.8 287.9L763 277.3L762.9 266.7L760.7 256.1L756.3 245.9L749.8 236.2L741.8 228.0L732.5 221.4L721.9 216.1L709.9 212.6L698 211.1L686 211.7Z" fill="#ccff00" fill-rule="evenodd"/><path d="M690.7 190.4L705.3 190.4L706 191.1L710.6 191.1L711.3 191.8L713.9 191.8L714.6 192.4L717.2 192.4L719.9 193.8L721.9 193.8L722.5 194.4L725.8 195.1L727.8 196.4L729.2 196.4L738.4 201.0L743.7 205.0L744.4 205.0L746.4 207.0L747.1 207.0L749.7 209.7L750.4 209.7L758.3 217.6L758.3 218.3L761 220.9L761 221.6L763 223.6L764.3 226.2L767 229.6L771.6 238.8L771.6 240.2L772.9 242.2L772.9 243.5L774.2 246.1L774.2 248.1L775.6 250.8L775.6 253.4L776.2 254.1L776.2 256.7L776.9 257.4L776.9 262.0L777.6 262.7L777.6 277.3L776.9 278.0L776.9 282.6L776.2 283.3L776.2 285.9L775.6 286.6L775.6 289.2L774.2 291.9L774.2 293.9L772.9 296.5L772.9 297.8L771.6 299.8L771.6 301.2L767 310.4L764.3 313.8L763 316.4L761 318.4L761 319.1L758.3 321.7L758.3 322.4L750.4 330.3L749.7 330.3L747.1 333.0L746.4 333.0L744.4 335.0L743.7 335.0L738.4 339.0L729.2 343.6L727.8 343.6L725.8 344.9L722.5 345.6L721.9 346.2L719.9 346.2L719.2 346.9L717.9 346.9L717.2 347.6L714.6 347.6L713.9 348.2L711.3 348.2L710.6 348.9L706 348.9L705.3 349.6L690.7 349.6L690 348.9L685.4 348.9L684.7 348.2L682.1 348.2L681.4 347.6L678.8 347.6L676.1 346.2L674.1 346.2L673.5 345.6L670.2 344.9L668.2 343.6L666.8 343.6L657.6 339.0L652.3 335.0L651.6 335.0L649.6 333.0L648.9 333.0L646.3 330.3L645.6 330.3L637.7 322.4L637.7 321.7L635 319.1L635 318.4L633 316.4L631.7 313.8L629 310.4L624.4 301.2L624.4 299.8L623.1 297.8L623.1 296.5L621.8 293.9L621.8 291.9L620.4 289.2L620.4 286.6L619.8 285.9L619.8 283.3L619.1 282.6L619.1 278.0L618.4 277.3L618.4 262.7L619.1 262.0L619.1 257.4L619.8 256.7L619.8 254.1L620.4 253.4L620.4 250.8L621.8 248.1L621.8 246.1L623.1 243.5L623.1 242.2L624.4 240.2L624.4 238.8L629 229.6L631.7 226.2L633 223.6L635 221.6L635 220.9L637.7 218.3L637.7 217.6L645.6 209.7L646.3 209.7L648.9 207.0L649.6 207.0L651.6 205.0L652.3 205.0L657.6 201.0L666.8 196.4L668.2 196.4L670.2 195.1L673.5 194.4L674.1 193.8L676.1 193.8L678.8 192.4L681.4 192.4L682.1 191.8L684.7 191.8L685.4 191.1L690 191.1L690.7 190.4ZM685.7 207.7L678.1 209.0L671.5 210.8L664.9 213.4L658.9 216.4L652.9 220.3L647.9 224.3L643.2 228.9L639 234.2L635.6 239.5L632.6 245.5L630.5 251.4L629 258.1L628.4 264.7L628.5 271.3L629.4 278.0L630.9 283.9L633.4 290.6L636.3 296.4L639.8 301.8L644.3 307.5L649.2 312.4L654.7 317.1L660.6 321.1L666.8 324.5L673.5 327.3L680.7 329.7L687.4 331.2L694.7 332.1L702 332.4L709.3 331.9L716.6 330.8L723.2 329.1L734.7 324.4L745 317.7L753.7 309.5L760.3 300.1L764.9 289.9L767.3 278.6L767.6 272.7L767.3 266.7L765 255.4L760.3 244.3L753.7 234.4L745.2 225.6L735.1 218.3L723.9 212.7L711.3 208.8L698.7 207.2L685.7 207.7Z" fill="#ffff00" fill-rule="evenodd"/><path d="M690.7 190.4L705.3 190.4L706 191.1L710.6 191.1L711.3 191.8L713.9 191.8L714.6 192.4L717.2 192.4L719.9 193.8L721.9 193.8L722.5 194.4L725.8 195.1L727.8 196.4L729.2 196.4L738.4 201.0L743.7 205.0L744.4 205.0L746.4 207.0L747.1 207.0L749.7 209.7L750.4 209.7L758.3 217.6L758.3 218.3L761 220.9L761 221.6L763 223.6L764.3 226.2L767 229.6L771.6 238.8L771.6 240.2L772.9 242.2L772.9 243.5L774.2 246.1L774.2 248.1L775.6 250.8L775.6 253.4L776.2 254.1L776.2 256.7L776.9 257.4L776.9 262.0L777.6 262.7L777.6 277.3L776.9 278.0L776.9 282.6L776.2 283.3L776.2 285.9L775.6 286.6L775.6 289.2L774.2 291.9L774.2 293.9L772.9 296.5L772.9 297.8L771.6 299.8L771.6 301.2L767 310.4L764.3 313.8L763 316.4L761 318.4L761 319.1L758.3 321.7L758.3 322.4L750.4 330.3L749.7 330.3L747.1 333.0L746.4 333.0L744.4 335.0L743.7 335.0L738.4 339.0L729.2 343.6L727.8 343.6L725.8 344.9L722.5 345.6L721.9 346.2L719.9 346.2L719.2 346.9L717.9 346.9L717.2 347.6L714.6 347.6L713.9 348.2L711.3 348.2L710.6 348.9L706 348.9L705.3 349.6L690.7 349.6L690 348.9L685.4 348.9L684.7 348.2L682.1 348.2L681.4 347.6L678.8 347.6L676.1 346.2L674.1 346.2L673.5 345.6L670.2 344.9L668.2 343.6L666.8 343.6L657.6 339.0L652.3 335.0L651.6 335.0L649.6 333.0L648.9 333.0L646.3 330.3L645.6 330.3L637.7 322.4L637.7 321.7L635 319.1L635 318.4L633 316.4L631.7 313.8L629 310.4L624.4 301.2L624.4 299.8L623.1 297.8L623.1 296.5L621.8 293.9L621.8 291.9L620.4 289.2L620.4 286.6L619.8 285.9L619.8 283.3L619.1 282.6L619.1 278.0L618.4 277.3L618.4 262.7L619.1 262.0L619.1 257.4L619.8 256.7L619.8 254.1L620.4 253.4L620.4 250.8L621.8 248.1L621.8 246.1L623.1 243.5L623.1 242.2L624.4 240.2L624.4 238.8L629 229.6L631.7 226.2L633 223.6L635 221.6L635 220.9L637.7 218.3L637.7 217.6L645.6 209.7L646.3 209.7L648.9 207.0L649.6 207.0L651.6 205.0L652.3 205.0L657.6 201.0L666.8 196.4L668.2 196.4L670.2 195.1L673.5 194.4L674.1 193.8L676.1 193.8L678.8 192.4L681.4 192.4L682.1 191.8L684.7 191.8L685.4 191.1L690 191.1L690.7 190.4ZM687.5 203.7L680.1 204.7L672.8 206.4L665.5 208.9L658.9 212.0L652.6 215.6L646.9 219.8L641.6 224.6L637 229.9L633.1 235.5L629.7 241.7L627.2 248.1L625.4 254.8L624.4 261.4L624.1 268.0L624.7 275.3L626.1 281.9L628.2 288.6L631.1 295.2L634.6 301.2L639 307.3L644.3 313.1L649.6 317.9L655.6 322.4L662.2 326.3L668.8 329.5L676.1 332.2L683.4 334.2L691.4 335.5L699.3 336.1L706.6 335.9L713.9 335.1L721.2 333.6L733.8 329.1L745.1 322.7L750.4 318.6L754.7 314.4L758.8 309.8L762.6 304.5L767.9 293.9L769.9 287.9L771.1 281.9L771.8 276.0L771.8 269.3L769.9 257.4L765.6 245.8L762.6 240.2L759 234.8L754.7 229.6L750.2 224.9L739.8 216.7L727.8 210.3L714.6 205.8L701.3 203.6L687.5 203.7Z" fill="#ffc800" fill-rule="evenodd"/><path d="M690.7 190.4L705.3 190.4L706 191.1L710.6 191.1L711.3 191.8L713.9 191.8L714.6 192.4L717.2 192.4L719.9 193.8L721.9 193.8L722.5 194.4L725.8 195.1L727.8 196.4L729.2 196.4L738.4 201.0L743.7 205.0L744.4 205.0L746.4 207.0L747.1 207.0L749.7 209.7L750.4 209.7L758.3 217.6L758.3 218.3L761 220.9L761 221.6L763 223.6L764.3 226.2L767 229.6L771.6 238.8L771.6 240.2L772.9 242.2L772.9 243.5L774.2 246.1L774.2 248.1L775.6 250.8L775.6 253.4L776.2 254.1L776.2 256.7L776.9 257.4L776.9 262.0L777.6 262.7L777.6 277.3L776.9 278.0L776.9 282.6L776.2 283.3L776.2 285.9L775.6 286.6L775.6 289.2L774.2 291.9L774.2 293.9L772.9 296.5L772.9 297.8L771.6 299.8L771.6 301.2L767 310.4L764.3 313.8L763 316.4L761 318.4L761 319.1L758.3 321.7L758.3 322.4L750.4 330.3L749.7 330.3L747.1 333.0L746.4 333.0L744.4 335.0L743.7 335.0L738.4 339.0L729.2 343.6L727.8 343.6L725.8 344.9L722.5 345.6L721.9 346.2L719.9 346.2L719.2 346.9L717.9 346.9L717.2 347.6L714.6 347.6L713.9 348.2L711.3 348.2L710.6 348.9L706 348.9L705.3 349.6L690.7 349.6L690 348.9L685.4 348.9L684.7 348.2L682.1 348.2L681.4 347.6L678.8 347.6L676.1 346.2L674.1 346.2L673.5 345.6L670.2 344.9L668.2 343.6L666.8 343.6L657.6 339.0L652.3 335.0L651.6 335.0L649.6 333.0L648.9 333.0L646.3 330.3L645.6 330.3L637.7 322.4L637.7 321.7L635 319.1L635 318.4L633 316.4L631.7 313.8L629 310.4L624.4 301.2L624.4 299.8L623.1 297.8L623.1 296.5L621.8 293.9L621.8 291.9L620.4 289.2L620.4 286.6L619.8 285.9L619.8 283.3L619.1 282.6L619.1 278.0L618.4 277.3L618.4 262.7L619.1 262.0L619.1 257.4L619.8 256.7L619.8 254.1L620.4 253.4L620.4 250.8L621.8 248.1L621.8 246.1L623.1 243.5L623.1 242.2L624.4 240.2L624.4 238.8L629 229.6L631.7 226.2L633 223.6L635 221.6L635 220.9L637.7 218.3L637.7 217.6L645.6 209.7L646.3 209.7L648.9 207.0L649.6 207.0L651.6 205.0L652.3 205.0L657.6 201.0L666.8 196.4L668.2 196.4L670.2 195.1L673.5 194.4L674.1 193.8L676.1 193.8L678.8 192.4L681.4 192.4L682.1 191.8L684.7 191.8L685.4 191.1L690 191.1L690.7 190.4ZM684.8 200.4L676.8 201.7L669.2 203.7L662.1 206.4L654.9 209.9L648.3 214.0L642.3 218.7L637 223.9L632.3 229.6L628.5 235.5L625.1 242.2L622.7 248.8L621 256.1L620.2 263.4L620.3 270.7L621.1 278.0L622.9 285.2L625.3 291.9L628.5 298.5L632.7 305.1L637.3 311.1L642.4 316.4L648.5 321.7L655.2 326.4L662.2 330.3L669.6 333.6L677.4 336.3L685.4 338.2L693.4 339.3L701.3 339.7L709.3 339.3L717.2 338.2L725.2 336.3L731.8 334.0L738.4 331.0L749.7 324.0L754.8 319.7L759.4 315.1L763.6 309.9L767.2 304.5L770 299.2L772.4 293.2L774.2 287.2L775.4 280.6L775.8 274.0L775.6 267.3L774.7 260.7L773.2 254.8L770.9 248.2L768.1 242.2L764.6 236.2L760.7 230.9L756.1 225.6L751.3 220.9L745.7 216.5L739.8 212.5L727.2 206.2L720.2 203.7L713.2 201.9L699.3 200.0L692 199.9L684.8 200.4Z" fill="#ff9c00" fill-rule="evenodd"/><path d="M690.7 190.4L705.3 190.4L706 191.1L710.6 191.1L711.3 191.8L713.9 191.8L714.6 192.4L717.2 192.4L719.9 193.8L721.9 193.8L722.5 194.4L725.8 195.1L727.8 196.4L729.2 196.4L738.4 201.0L743.7 205.0L744.4 205.0L746.4 207.0L747.1 207.0L749.7 209.7L750.4 209.7L758.3 217.6L758.3 218.3L761 220.9L761 221.6L763 223.6L764.3 226.2L767 229.6L771.6 238.8L771.6 240.2L772.9 242.2L773.6 245.0L769.3 236.9L763.6 228.8L757 221.5L749.5 215.0L741.1 209.3L731.8 204.4L722.5 200.9L712.6 198.3L702.6 196.8L692 196.5L682.1 197.3L672.1 199.2L662.5 202.4L653.6 206.5L645.3 211.7L637.7 217.9L645.6 209.7L646.3 209.7L648.9 207.0L649.6 207.0L651.6 205.0L652.3 205.0L657.6 201.0L666.8 196.4L668.2 196.4L670.2 195.1L673.5 194.4L674.1 193.8L676.1 193.8L678.8 192.4L681.4 192.4L682.1 191.8L684.7 191.8L685.4 191.1L690 191.1L690.7 190.4ZM773.9 245.8L774.2 246.6L773.9 245.8ZM621.8 293.2L626.2 301.8L631.7 309.9L638.3 317.4L646.3 324.4L654.9 330.2L664.2 335.1L674.1 338.8L684.7 341.5L695.3 342.8L706 343.0L716.6 341.8L726.5 339.5L735.8 336.2L745.1 331.5L753 326.1L761 319.1L758.3 321.7L758.3 322.4L750.4 330.3L749.7 330.3L744.4 335.0L743.7 335.0L738.4 339.0L729.2 343.6L727.8 343.6L725.8 344.9L722.5 345.6L721.9 346.2L719.9 346.2L717.2 347.6L711.3 348.2L710.6 348.9L706 348.9L705.3 349.6L690.7 349.6L690 348.9L685.4 348.9L684.7 348.2L678.8 347.6L678.1 346.9L676.8 346.9L676.1 346.2L674.1 346.2L673.5 345.6L670.2 344.9L668.2 343.6L666.8 343.6L657.6 339.0L652.3 335.0L651.6 335.0L649.6 333.0L648.9 333.0L646.3 330.3L645.6 330.3L637.7 322.4L637.7 321.7L635 319.1L635 318.4L633 316.4L631.7 313.8L629 310.4L624.4 301.2L624.4 299.8L623.1 297.8L623.1 296.5L622.4 295.9L621.8 293.2Z" fill="#ff8800" fill-rule="evenodd"/><path d="M690.7 190.4L705.3 190.4L706 191.1L710.6 191.1L711.3 191.8L713.9 191.8L714.6 192.4L717.2 192.4L719.9 193.8L721.9 193.8L722.5 194.4L725.8 195.1L727.8 196.4L729.2 196.4L738.4 201.0L743.7 205.0L744.4 205.0L749.7 209.7L750.4 209.7L758.3 217.6L758.3 218.1L748.8 210.3L737.8 203.7L725.8 198.6L713.9 195.2L701.3 193.4L688.1 193.4L675.5 195.1L663.6 198.4L666.8 196.4L668.2 196.4L670.2 195.1L673.5 194.4L674.1 193.8L676.1 193.8L678.8 192.4L681.4 192.4L682.1 191.8L684.7 191.8L685.4 191.1L690 191.1L690.7 190.4ZM662.9 198.4L663.5 198.4L662.5 198.7L662.9 198.4ZM635.2 319.1L645.1 327.7L656.9 335.1L670.2 340.9L683.4 344.5L697.3 346.2L711.3 345.8L724.5 343.5L737.7 339.1L729.2 343.6L727.8 343.6L725.8 344.9L722.5 345.6L721.9 346.2L719.9 346.2L717.2 347.6L711.3 348.2L710.6 348.9L706 348.9L705.3 349.6L690.7 349.6L690 348.9L685.4 348.9L684.7 348.2L678.8 347.6L676.1 346.2L674.1 346.2L673.5 345.6L670.2 344.9L668.2 343.6L666.8 343.6L657.6 339.0L652.3 335.0L651.6 335.0L649.6 333.0L648.9 333.0L646.3 330.3L645.6 330.3L637.7 322.4L637.7 321.7L635.2 319.1ZM738.4 338.7L737.9 339.0L738.4 338.7Z" fill="#ff6600" fill-rule="evenodd"/></g><circle cx="698" cy="270" r="81" fill="none" stroke="#272d35" stroke-width="6"/><line x1="646.5" y1="211.9" x2="646.5" y2="328.1" stroke="#fff" stroke-opacity=".5" stroke-dasharray="2 1"/><line x1="639.9" y1="218.5" x2="756.1" y2="218.5" stroke="#fff" stroke-opacity=".5" stroke-dasharray="2 1"/><line x1="750.5" y1="211.9" x2="750.5" y2="328.1" stroke="#fff" stroke-opacity=".5" stroke-dasharray="2 1"/><line x1="639.9" y1="322.5" x2="756.1" y2="322.5" stroke="#fff" stroke-opacity=".5" stroke-dasharray="2 1"/><line x1="698.5" y1="190" x2="698.5" y2="350" stroke="#fff" stroke-opacity=".75"/><line x1="618" y1="270.5" x2="778" y2="270.5" stroke="#fff" stroke-opacity=".75"/><line x1="775.3" y1="256.4" x2="778.3" y2="255.8" stroke="#4b545f"/><line x1="771.8" y1="243.2" x2="774.6" y2="242.1" stroke="#4b545f"/><line x1="766.0" y1="230.8" x2="768.6" y2="229.2" stroke="#4b545f"/><line x1="758.1" y1="219.5" x2="760.4" y2="217.6" stroke="#4b545f"/><line x1="748.5" y1="209.9" x2="750.4" y2="207.6" stroke="#4b545f"/><line x1="737.2" y1="202.0" x2="738.8" y2="199.4" stroke="#4b545f"/><line x1="724.8" y1="196.2" x2="725.9" y2="193.4" stroke="#4b545f"/><line x1="711.6" y1="192.7" x2="712.2" y2="189.7" stroke="#4b545f"/><line x1="684.4" y1="192.7" x2="683.8" y2="189.7" stroke="#4b545f"/><line x1="671.2" y1="196.2" x2="670.1" y2="193.4" stroke="#4b545f"/><line x1="658.8" y1="202.0" x2="657.2" y2="199.4" stroke="#4b545f"/><line x1="647.5" y1="209.9" x2="645.6" y2="207.6" stroke="#4b545f"/><line x1="637.9" y1="219.5" x2="635.6" y2="217.6" stroke="#4b545f"/><line x1="630.0" y1="230.8" x2="627.4" y2="229.2" stroke="#4b545f"/><line x1="624.2" y1="243.2" x2="621.4" y2="242.1" stroke="#4b545f"/><line x1="620.7" y1="256.4" x2="617.7" y2="255.8" stroke="#4b545f"/><line x1="620.7" y1="283.6" x2="617.7" y2="284.2" stroke="#4b545f"/><line x1="624.2" y1="296.8" x2="621.4" y2="297.9" stroke="#4b545f"/><line x1="630.0" y1="309.2" x2="627.4" y2="310.8" stroke="#4b545f"/><line x1="637.9" y1="320.5" x2="635.6" y2="322.4" stroke="#4b545f"/><line x1="647.5" y1="330.1" x2="645.6" y2="332.4" stroke="#4b545f"/><line x1="658.8" y1="338.0" x2="657.2" y2="340.6" stroke="#4b545f"/><line x1="671.2" y1="343.8" x2="670.1" y2="346.6" stroke="#4b545f"/><line x1="684.4" y1="347.3" x2="683.8" y2="350.3" stroke="#4b545f"/><line x1="711.6" y1="347.3" x2="712.2" y2="350.3" stroke="#4b545f"/><line x1="724.8" y1="343.8" x2="725.9" y2="346.6" stroke="#4b545f"/><line x1="737.2" y1="338.0" x2="738.8" y2="340.6" stroke="#4b545f"/><line x1="748.5" y1="330.1" x2="750.4" y2="332.4" stroke="#4b545f"/><line x1="758.1" y1="320.5" x2="760.4" y2="322.4" stroke="#4b545f"/><line x1="766.0" y1="309.3" x2="768.6" y2="310.8" stroke="#4b545f"/><line x1="771.8" y1="296.8" x2="774.6" y2="297.9" stroke="#4b545f"/><line x1="775.3" y1="283.6" x2="778.3" y2="284.2" stroke="#4b545f"/><text x="785.0" y="272.5">0</text><text x="773.3" y="229.0">30</text><text x="741.5" y="197.2">60</text><text x="698.0" y="185.5">90</text><text x="654.5" y="197.2">120</text><text x="622.7" y="229.0">150</text><text x="611.0" y="272.5">180</text><text x="622.7" y="316.0">210</text><text x="654.5" y="347.8">240</text><text x="698.0" y="359.5">270</text><text x="741.5" y="347.8">300</text><text x="773.3" y="316.0">330</text><rect x="863" y="335.85" width="10" height="7.95" fill="#00009c"/><rect x="863" y="328.20" width="10" height="7.95" fill="#0000ff"/><rect x="863" y="320.54" width="10" height="7.95" fill="#0033ff"/><rect x="863" y="312.89" width="10" height="7.95" fill="#0060f5"/><rect x="863" y="305.24" width="10" height="7.95" fill="#0080ff"/><rect x="863" y="297.59" width="10" height="7.95" fill="#00b0f8"/><rect x="863" y="289.93" width="10" height="7.95" fill="#00f8ff"/><rect x="863" y="282.28" width="10" height="7.95" fill="#00ff9c"/><rect x="863" y="274.63" width="10" height="7.95" fill="#10e060"/><rect x="863" y="266.98" width="10" height="7.95" fill="#00e000"/><rect x="863" y="259.33" width="10" height="7.95" fill="#33ff00"/><rect x="863" y="251.67" width="10" height="7.95" fill="#6cff00"/><rect x="863" y="244.02" width="10" height="7.95" fill="#99ff00"/><rect x="863" y="236.37" width="10" height="7.95" fill="#ccff00"/><rect x="863" y="228.72" width="10" height="7.95" fill="#ffff00"/><rect x="863" y="221.07" width="10" height="7.95" fill="#ffc800"/><rect x="863" y="213.41" width="10" height="7.95" fill="#ff9c00"/><rect x="863" y="205.76" width="10" height="7.95" fill="#ff8800"/><rect x="863" y="198.11" width="10" height="7.95" fill="#ff6600"/><rect x="863" y="190.46" width="10" height="7.95" fill="#ff4c00"/><rect x="863" y="182.80" width="10" height="7.95" fill="#ff2200"/><rect x="863" y="175.15" width="10" height="7.95" fill="#ff0000"/><rect x="863" y="167.50" width="10" height="7.95" fill="#c40000"/><rect x="863" y="174.65" width="10" height="1" fill="#000" fill-opacity=".3"/><rect x="863" y="182.30" width="10" height="1" fill="#000" fill-opacity=".3"/><rect x="863" y="189.96" width="10" height="1" fill="#000" fill-opacity=".3"/><rect x="863" y="197.61" width="10" height="1" fill="#000" fill-opacity=".3"/><rect x="863" y="205.26" width="10" height="1" fill="#000" fill-opacity=".3"/><rect x="863" y="212.91" width="10" height="1" fill="#000" fill-opacity=".3"/><rect x="863" y="220.57" width="10" height="1" fill="#000" fill-opacity=".3"/><rect x="863" y="228.22" width="10" height="1" fill="#000" fill-opacity=".3"/><rect x="863" y="235.87" width="10" height="1" fill="#000" fill-opacity=".3"/><rect x="863" y="243.52" width="10" height="1" fill="#000" fill-opacity=".3"/><rect x="863" y="251.17" width="10" height="1" fill="#000" fill-opacity=".3"/><rect x="863" y="258.83" width="10" height="1" fill="#000" fill-opacity=".3"/><rect x="863" y="266.48" width="10" height="1" fill="#000" fill-opacity=".3"/><rect x="863" y="274.13" width="10" height="1" fill="#000" fill-opacity=".3"/><rect x="863" y="281.78" width="10" height="1" fill="#000" fill-opacity=".3"/><rect x="863" y="289.43" width="10" height="1" fill="#000" fill-opacity=".3"/><rect x="863" y="297.09" width="10" height="1" fill="#000" fill-opacity=".3"/><rect x="863" y="304.74" width="10" height="1" fill="#000" fill-opacity=".3"/><rect x="863" y="312.39" width="10" height="1" fill="#000" fill-opacity=".3"/><rect x="863" y="320.04" width="10" height="1" fill="#000" fill-opacity=".3"/><rect x="863" y="327.70" width="10" height="1" fill="#000" fill-opacity=".3"/><rect x="863" y="335.35" width="10" height="1" fill="#000" fill-opacity=".3"/><g shape-rendering="crispEdges"><circle cx="698" cy="570" r="79" fill="#6cff00"/><path d="M769.0 535.4L765.8 534.3L762.2 532.2L748.3 522.9L736.3 515.8L732.1 512.8L722.1 503.6L716.2 495.3L713.1 492.5L713.5 490.5L720.1 492.1L726.5 494.2L732.8 496.9L738.8 500.0L744.6 503.7L750.0 507.9L755.0 512.5L759.6 517.4L763.8 522.8L767.6 528.5L770.8 534.5Z" fill="#99ff00" fill-rule="evenodd"/><ellipse cx="698.5" cy="610.5" rx="23.5" ry="6.3" transform="rotate(17 698.5 610.5)" fill="#99ff00"/><path d="M628.2 607.1L630.5 607.9L632.1 609.1L640.3 618.2L645.4 623.0L649.6 626.0L654.3 628.3L677.5 636.8L685.3 639.1L691.6 640.6L715.7 644.5L719.8 645.9L720.3 647.9L710.5 650.0L700.6 651.0L690.6 650.7L680.7 649.1L671.0 646.4L661.8 642.5L653.1 637.4L645.2 631.4L638.0 624.4L631.7 616.6L626.5 608.0Z" fill="#33ff00" fill-rule="evenodd"/></g><circle cx="698" cy="570" r="81" fill="none" stroke="#272d35" stroke-width="6"/><line x1="646.5" y1="511.9" x2="646.5" y2="628.1" stroke="#fff" stroke-opacity=".5" stroke-dasharray="2 1"/><line x1="639.9" y1="518.5" x2="756.1" y2="518.5" stroke="#fff" stroke-opacity=".5" stroke-dasharray="2 1"/><line x1="750.5" y1="511.9" x2="750.5" y2="628.1" stroke="#fff" stroke-opacity=".5" stroke-dasharray="2 1"/><line x1="639.9" y1="622.5" x2="756.1" y2="622.5" stroke="#fff" stroke-opacity=".5" stroke-dasharray="2 1"/><line x1="698.5" y1="490" x2="698.5" y2="650" stroke="#fff" stroke-opacity=".75"/><line x1="618" y1="570.5" x2="778" y2="570.5" stroke="#fff" stroke-opacity=".75"/><line x1="775.3" y1="556.4" x2="778.3" y2="555.8" stroke="#4b545f"/><line x1="771.8" y1="543.2" x2="774.6" y2="542.1" stroke="#4b545f"/><line x1="766.0" y1="530.8" x2="768.6" y2="529.2" stroke="#4b545f"/><line x1="758.1" y1="519.5" x2="760.4" y2="517.6" stroke="#4b545f"/><line x1="748.5" y1="509.9" x2="750.4" y2="507.6" stroke="#4b545f"/><line x1="737.2" y1="502.0" x2="738.8" y2="499.4" stroke="#4b545f"/><line x1="724.8" y1="496.2" x2="725.9" y2="493.4" stroke="#4b545f"/><line x1="711.6" y1="492.7" x2="712.2" y2="489.7" stroke="#4b545f"/><line x1="684.4" y1="492.7" x2="683.8" y2="489.7" stroke="#4b545f"/><line x1="671.2" y1="496.2" x2="670.1" y2="493.4" stroke="#4b545f"/><line x1="658.8" y1="502.0" x2="657.2" y2="499.4" stroke="#4b545f"/><line x1="647.5" y1="509.9" x2="645.6" y2="507.6" stroke="#4b545f"/><line x1="637.9" y1="519.5" x2="635.6" y2="517.6" stroke="#4b545f"/><line x1="630.0" y1="530.8" x2="627.4" y2="529.2" stroke="#4b545f"/><line x1="624.2" y1="543.2" x2="621.4" y2="542.1" stroke="#4b545f"/><line x1="620.7" y1="556.4" x2="617.7" y2="555.8" stroke="#4b545f"/><line x1="620.7" y1="583.6" x2="617.7" y2="584.2" stroke="#4b545f"/><line x1="624.2" y1="596.8" x2="621.4" y2="597.9" stroke="#4b545f"/><line x1="630.0" y1="609.2" x2="627.4" y2="610.8" stroke="#4b545f"/><line x1="637.9" y1="620.5" x2="635.6" y2="622.4" stroke="#4b545f"/><line x1="647.5" y1="630.1" x2="645.6" y2="632.4" stroke="#4b545f"/><line x1="658.8" y1="638.0" x2="657.2" y2="640.6" stroke="#4b545f"/><line x1="671.2" y1="643.8" x2="670.1" y2="646.6" stroke="#4b545f"/><line x1="684.4" y1="647.3" x2="683.8" y2="650.3" stroke="#4b545f"/><line x1="711.6" y1="647.3" x2="712.2" y2="650.3" stroke="#4b545f"/><line x1="724.8" y1="643.8" x2="725.9" y2="646.6" stroke="#4b545f"/><line x1="737.2" y1="638.0" x2="738.8" y2="640.6" stroke="#4b545f"/><line x1="748.5" y1="630.1" x2="750.4" y2="632.4" stroke="#4b545f"/><line x1="758.1" y1="620.5" x2="760.4" y2="622.4" stroke="#4b545f"/><line x1="766.0" y1="609.2" x2="768.6" y2="610.8" stroke="#4b545f"/><line x1="771.8" y1="596.8" x2="774.6" y2="597.9" stroke="#4b545f"/><line x1="775.3" y1="583.6" x2="778.3" y2="584.2" stroke="#4b545f"/><text x="785.0" y="572.5">0</text><text x="773.3" y="529.0">30</text><text x="741.5" y="497.2">60</text><text x="698.0" y="485.5">90</text><text x="654.5" y="497.2">120</text><text x="622.7" y="529.0">150</text><text x="611.0" y="572.5">180</text><text x="622.7" y="616.0">210</text><text x="654.5" y="647.8">240</text><text x="698.0" y="659.5">270</text><text x="741.5" y="647.8">300</text><text x="773.3" y="616.0">330</text><rect x="863" y="635.85" width="10" height="7.95" fill="#00009c"/><rect x="863" y="628.20" width="10" height="7.95" fill="#0000ff"/><rect x="863" y="620.54" width="10" height="7.95" fill="#0033ff"/><rect x="863" y="612.89" width="10" height="7.95" fill="#0060f5"/><rect x="863" y="605.24" width="10" height="7.95" fill="#0080ff"/><rect x="863" y="597.59" width="10" height="7.95" fill="#00b0f8"/><rect x="863" y="589.93" width="10" height="7.95" fill="#00f8ff"/><rect x="863" y="582.28" width="10" height="7.95" fill="#00ff9c"/><rect x="863" y="574.63" width="10" height="7.95" fill="#10e060"/><rect x="863" y="566.98" width="10" height="7.95" fill="#00e000"/><rect x="863" y="559.33" width="10" height="7.95" fill="#33ff00"/><rect x="863" y="551.67" width="10" height="7.95" fill="#6cff00"/><rect x="863" y="544.02" width="10" height="7.95" fill="#99ff00"/><rect x="863" y="536.37" width="10" height="7.95" fill="#ccff00"/><rect x="863" y="528.72" width="10" height="7.95" fill="#ffff00"/><rect x="863" y="521.07" width="10" height="7.95" fill="#ffc800"/><rect x="863" y="513.41" width="10" height="7.95" fill="#ff9c00"/><rect x="863" y="505.76" width="10" height="7.95" fill="#ff8800"/><rect x="863" y="498.11" width="10" height="7.95" fill="#ff6600"/><rect x="863" y="490.46" width="10" height="7.95" fill="#ff4c00"/><rect x="863" y="482.80" width="10" height="7.95" fill="#ff2200"/><rect x="863" y="475.15" width="10" height="7.95" fill="#ff0000"/><rect x="863" y="467.50" width="10" height="7.95" fill="#c40000"/><rect x="863" y="474.65" width="10" height="1" fill="#000" fill-opacity=".3"/><rect x="863" y="482.30" width="10" height="1" fill="#000" fill-opacity=".3"/><rect x="863" y="489.96" width="10" height="1" fill="#000" fill-opacity=".3"/><rect x="863" y="497.61" width="10" height="1" fill="#000" fill-opacity=".3"/><rect x="863" y="505.26" width="10" height="1" fill="#000" fill-opacity=".3"/><rect x="863" y="512.91" width="10" height="1" fill="#000" fill-opacity=".3"/><rect x="863" y="520.57" width="10" height="1" fill="#000" fill-opacity=".3"/><rect x="863" y="528.22" width="10" height="1" fill="#000" fill-opacity=".3"/><rect x="863" y="535.87" width="10" height="1" fill="#000" fill-opacity=".3"/><rect x="863" y="543.52" width="10" height="1" fill="#000" fill-opacity=".3"/><rect x="863" y="551.17" width="10" height="1" fill="#000" fill-opacity=".3"/><rect x="863" y="558.83" width="10" height="1" fill="#000" fill-opacity=".3"/><rect x="863" y="566.48" width="10" height="1" fill="#000" fill-opacity=".3"/><rect x="863" y="574.13" width="10" height="1" fill="#000" fill-opacity=".3"/><rect x="863" y="581.78" width="10" height="1" fill="#000" fill-opacity=".3"/><rect x="863" y="589.43" width="10" height="1" fill="#000" fill-opacity=".3"/><rect x="863" y="597.09" width="10" height="1" fill="#000" fill-opacity=".3"/><rect x="863" y="604.74" width="10" height="1" fill="#000" fill-opacity=".3"/><rect x="863" y="612.39" width="10" height="1" fill="#000" fill-opacity=".3"/><rect x="863" y="620.04" width="10" height="1" fill="#000" fill-opacity=".3"/><rect x="863" y="627.70" width="10" height="1" fill="#000" fill-opacity=".3"/><rect x="863" y="635.35" width="10" height="1" fill="#000" fill-opacity=".3"/></svg>
<div class="t" style="left:277px;top:758.00px;font-size:13px;line-height:13px;color:#a9b4c3;font-weight:700;">PUPIL SIZE</div>
<div class="t" style="left:293.5px;width:300px;text-align:center;top:756.05px;font-size:15.3px;line-height:15.3px;color:#ffffff;font-weight:400;">Day (3 mm)</div>
<div class="t" style="left:433.5px;width:300px;text-align:center;top:756.05px;font-size:15.3px;line-height:15.3px;color:#e8ecf0;font-weight:400;letter-spacing:0.5px">Night (5 mm)</div>
<div class="t" style="left:572.5px;width:300px;text-align:center;top:756.05px;font-size:15.3px;line-height:15.3px;color:#e8ecf0;font-weight:400;">Max</div>
</body></html>
